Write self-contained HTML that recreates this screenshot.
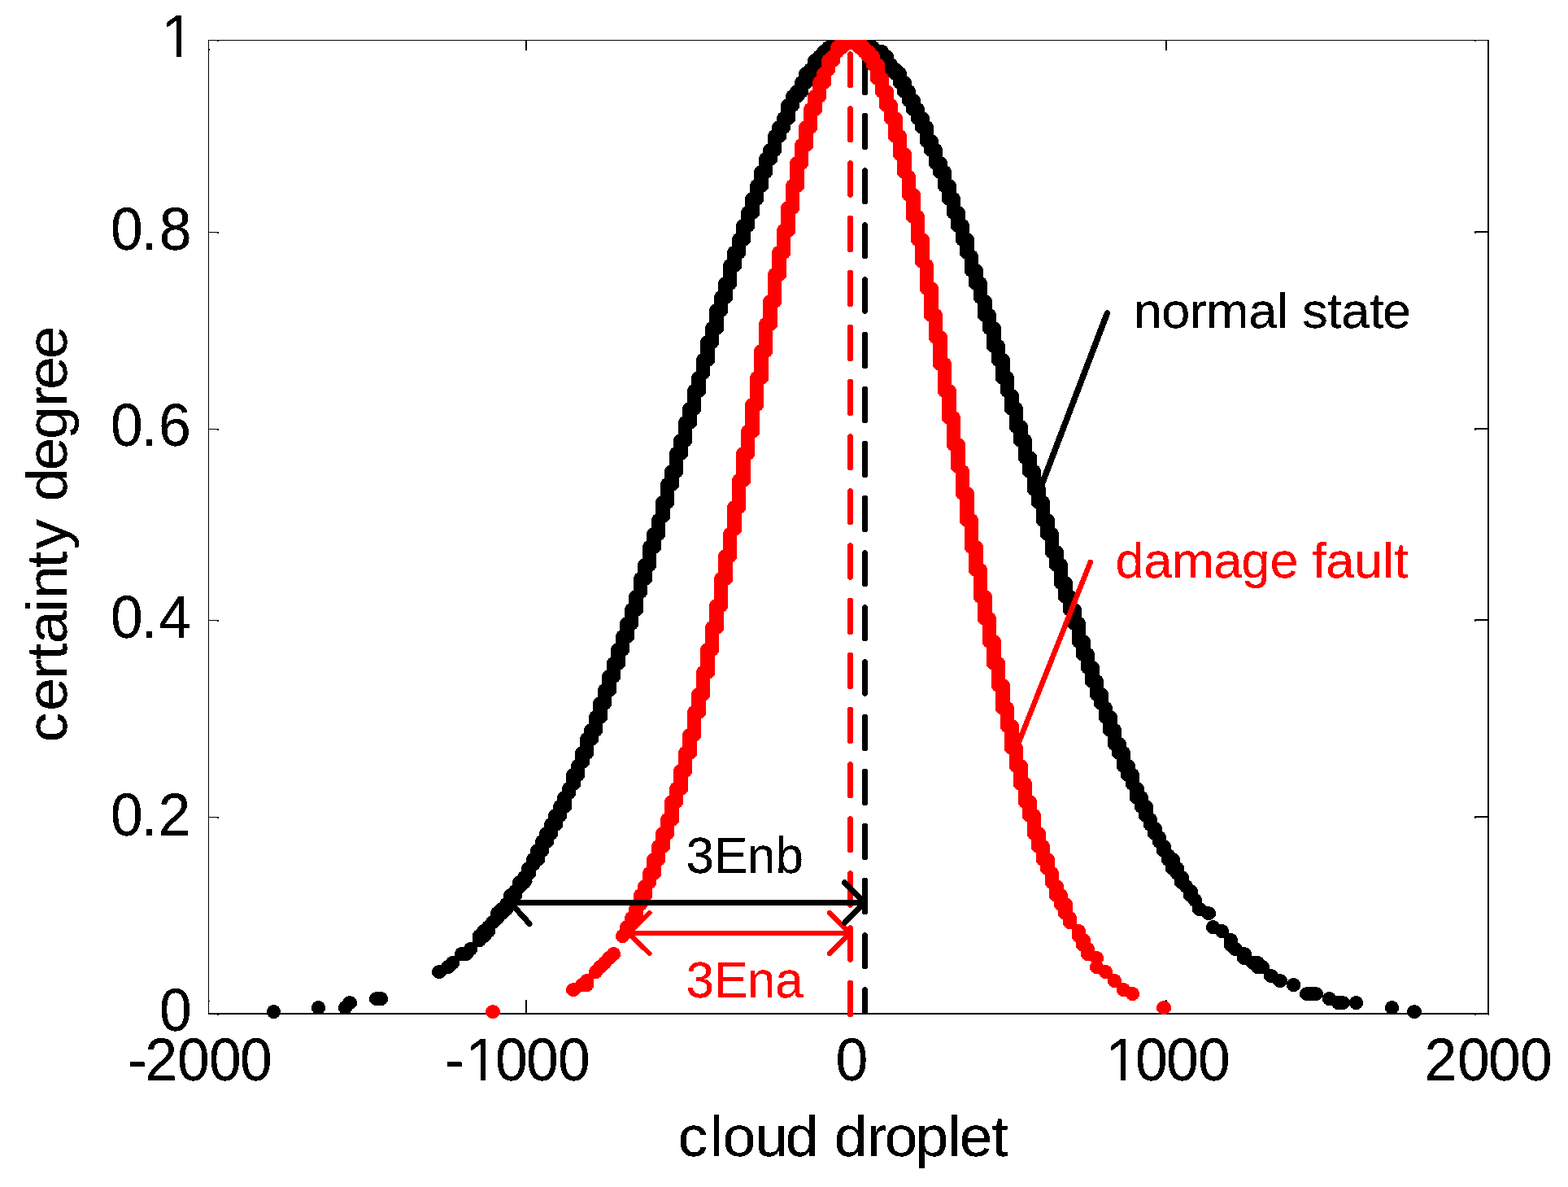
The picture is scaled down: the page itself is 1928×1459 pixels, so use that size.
<!DOCTYPE html>
<html lang="en">
<head>
<meta charset="utf-8">
<title>Cloud model: normal state vs damage fault</title>
<style>
html,body{margin:0;padding:0;background:#fff;}
body{width:1928px;height:1459px;overflow:hidden;}
svg{display:block;}
text{font-family:'Liberation Sans', Arial, Helvetica, sans-serif;white-space:pre;}
</style>
</head>
<body>
<svg xmlns="http://www.w3.org/2000/svg" width="1928" height="1459" viewBox="0 0 1928 1459">
<rect x="0" y="0" width="1928" height="1459" fill="#fff"/>
<defs><clipPath id="ax"><rect x="250" y="49" width="1600" height="1230"/></clipPath><clipPath id="axb"><rect x="250" y="49" width="1600" height="1198"/></clipPath><clipPath id="c1_1"><path clip-rule="evenodd" d="M-3000 -3000H3000V3000H-3000Z M202.22 -6.31H216.71V10.00H202.22Z M223.03 -6.31H237.13V10.00H223.03Z"/></clipPath><clipPath id="c1_2"><path clip-rule="evenodd" d="M-3000 -3000H3000V3000H-3000Z M576.24 -6.31H590.73V10.00H576.24Z M597.05 -6.31H611.15V10.00H597.05Z"/></clipPath><clipPath id="c1_3"><path clip-rule="evenodd" d="M-3000 -3000H3000V3000H-3000Z M1363.19 -6.31H1377.68V10.00H1363.19Z M1384.00 -6.31H1398.10V10.00H1384.00Z"/></clipPath><filter id="th" x="0" y="0" width="1928" height="1459" filterUnits="userSpaceOnUse" color-interpolation-filters="sRGB"><feComponentTransfer><feFuncA type="discrete" tableValues="0 1"/></feComponentTransfer></filter><filter id="tht" x="0" y="0" width="1928" height="1459" filterUnits="userSpaceOnUse" color-interpolation-filters="sRGB"><feComponentTransfer><feFuncA type="discrete" tableValues="0 1 1"/></feComponentTransfer></filter></defs>
<g fill="#000" shape-rendering="crispEdges"><rect x="256" y="49" width="1" height="1198"/><rect x="256" y="49" width="1575" height="1"/><rect x="1829" y="49" width="2" height="1198"/><rect x="256" y="1245" width="1575" height="2"/><rect x="646" y="49" width="2" height="13"/><rect x="646" y="1229" width="2" height="17"/><rect x="1433" y="49" width="2" height="13"/><rect x="1433" y="1229" width="2" height="17"/><rect x="256" y="285" width="12" height="1"/><rect x="267" y="285" width="2" height="2"/><rect x="1813" y="284" width="17" height="2"/><rect x="1813" y="284" width="2" height="3"/><rect x="256" y="527" width="12" height="1"/><rect x="267" y="527" width="2" height="2"/><rect x="1813" y="526" width="17" height="2"/><rect x="1813" y="526" width="2" height="3"/><rect x="256" y="762" width="12" height="1"/><rect x="267" y="762" width="2" height="2"/><rect x="1813" y="761" width="17" height="2"/><rect x="1813" y="761" width="2" height="3"/><rect x="256" y="1004" width="12" height="1"/><rect x="267" y="1004" width="2" height="2"/><rect x="1813" y="1003" width="17" height="2"/><rect x="1813" y="1003" width="2" height="3"/><rect x="267" y="50" width="2" height="1"/><rect x="257" y="60" width="1" height="2"/><rect x="1813" y="50" width="2" height="1"/><rect x="1813" y="1247" width="2" height="1"/><rect x="267" y="1247" width="2" height="1"/><rect x="257" y="1230" width="1" height="1"/><rect x="1830" y="1247" width="1" height="1"/></g>
<g filter="url(#tht)">
<text transform="translate(0 70.00) scale(1 1.03)" x="198.73" y="0" font-size="71.5" fill="#000" clip-path="url(#c1_1)">1</text>
<text transform="translate(0 307.00) scale(1 1.03)" x="136.11 173.44 195.65" y="0" font-size="71.5" fill="#000">0.8</text>
<text transform="translate(0 548.00) scale(1 1.03)" x="136.11 173.44 195.02" y="0" font-size="71.5" fill="#000">0.6</text>
<text transform="translate(0 783.90) scale(1 1.03)" x="136.11 173.44 195.26" y="0" font-size="71.5" fill="#000">0.4</text>
<text transform="translate(0 1026.50) scale(1 1.03)" x="136.11 173.44 194.50" y="0" font-size="71.5" fill="#000">0.2</text>
<text transform="translate(0 1267.00) scale(1 1.03)" x="196.11" y="0" font-size="71.5" fill="#000">0</text>
<text transform="translate(0 1328.00) scale(1 1.03)" x="156.67 178.35 218.06 256.96 295.01" y="0" font-size="71.5" fill="#000">-2000</text>
<text transform="translate(0 1328.00) scale(1 1.03)" x="546.67 572.75 609.11 646.96 686.11" y="0" font-size="71.5" fill="#000" clip-path="url(#c1_2)">-1000</text>
<text transform="translate(0 1328.00) scale(1 1.03)" x="1027.51" y="0" font-size="71.5" fill="#000">0</text>
<text transform="translate(0 1328.00) scale(1 1.03)" x="1359.70 1395.96 1434.11 1472.91" y="0" font-size="71.5" fill="#000" clip-path="url(#c1_3)">1000</text>
<text transform="translate(0 1328.00) scale(1 1.03)" x="1751.40 1792.11 1830.01 1869.11" y="0" font-size="71.5" fill="#000">2000</text>
<text transform="translate(0 1421.00) scale(1 0.964)" x="833.65 872.98 888.83 928.16 965.83 1006.43 1025.73 1066.05 1087.83 1125.39 1165.18 1179.70 1219.60" y="0" font-size="73.0" fill="#000">cloud droplet</text>
<text transform="translate(81.60 0) rotate(-90) scale(1 0.964)" x="-912.20 -873.80 -834.75 -811.00 -791.20 -752.68 -735.85 -698.00 -674.68 -638.18 -616.17 -578.30 -539.87 -499.75 -478.80 -440.90" y="0" font-size="73.0" fill="#000">certainty degree</text>
<text transform="translate(0 402.90) scale(1 0.963)" x="1393.76 1428.25 1462.82 1482.92 1535.32 1569.75 1583.75 1601.15 1632.15 1649.28 1684.15 1700.12" y="0" font-size="63.0" fill="#000">normal state</text>
<text transform="translate(0 709.90) scale(1 0.963)" x="1371.42 1406.18 1440.82 1492.22 1526.45 1561.42 1596.46 1613.17 1630.32 1664.96 1699.95 1714.15" y="0" font-size="63.0" fill="#f00">damage fault</text>
<text transform="translate(0 1073.00) scale(1 1.01)" x="843.40 877.97 918.78 953.40" y="0" font-size="62.0" fill="#000">3Enb</text>
<text transform="translate(0 1226.00) scale(1 1.01)" x="843.40 877.97 918.78 953.35" y="0" font-size="62.0" fill="#f00">3Ena</text>
</g>
<g clip-path="url(#axb)"><g filter="url(#th)" stroke="#000" stroke-width="7" stroke-linecap="round"><line x1="1063.5" y1="7.9" x2="1063.5" y2="46.4"/><line x1="1063.5" y1="75.1" x2="1063.5" y2="113.6"/><line x1="1063.5" y1="142.2" x2="1063.5" y2="180.8"/><line x1="1063.5" y1="209.4" x2="1063.5" y2="247.9"/><line x1="1063.5" y1="276.6" x2="1063.5" y2="315.1"/><line x1="1063.5" y1="343.7" x2="1063.5" y2="382.2"/><line x1="1063.5" y1="410.9" x2="1063.5" y2="449.4"/><line x1="1063.5" y1="478.0" x2="1063.5" y2="516.5"/><line x1="1063.5" y1="545.1" x2="1063.5" y2="583.6"/><line x1="1063.5" y1="612.3" x2="1063.5" y2="650.8"/><line x1="1063.5" y1="679.4" x2="1063.5" y2="717.9"/><line x1="1063.5" y1="746.6" x2="1063.5" y2="785.1"/><line x1="1063.5" y1="813.7" x2="1063.5" y2="852.2"/><line x1="1063.5" y1="880.9" x2="1063.5" y2="919.4"/><line x1="1063.5" y1="948.0" x2="1063.5" y2="986.5"/><line x1="1063.5" y1="1015.2" x2="1063.5" y2="1053.7"/><line x1="1063.5" y1="1082.3" x2="1063.5" y2="1120.8"/><line x1="1063.5" y1="1149.5" x2="1063.5" y2="1188.0"/><line x1="1063.5" y1="1216.7" x2="1063.5" y2="1255.2"/></g></g>
<g clip-path="url(#ax)">
<g filter="url(#th)" fill="#000"><ellipse cx="595" cy="1150.5" rx="9.15" ry="8.6"/><ellipse cx="595" cy="1144.5" rx="9.15" ry="8.6"/><ellipse cx="600.5" cy="1144.5" rx="8.65" ry="8.6"/><ellipse cx="600.5" cy="1139.5" rx="8.65" ry="8.6"/><ellipse cx="606" cy="1133.5" rx="9.15" ry="8.6"/><ellipse cx="611.5" cy="1128.5" rx="8.65" ry="8.6"/><ellipse cx="611.5" cy="1122.5" rx="8.65" ry="8.6"/><ellipse cx="617" cy="1122.5" rx="9.15" ry="8.6"/><ellipse cx="617" cy="1117.5" rx="9.15" ry="8.6"/><ellipse cx="622.5" cy="1117.5" rx="8.65" ry="8.6"/><ellipse cx="622.5" cy="1111.5" rx="8.65" ry="8.6"/><ellipse cx="628" cy="1106.5" rx="9.15" ry="8.6"/><ellipse cx="628" cy="1100.5" rx="9.15" ry="8.6"/><ellipse cx="633.5" cy="1100.5" rx="8.65" ry="8.6"/><ellipse cx="633.5" cy="1095.5" rx="8.65" ry="8.6"/><ellipse cx="639" cy="1089.5" rx="9.15" ry="8.6"/><ellipse cx="639" cy="1084.5" rx="9.15" ry="8.6"/><ellipse cx="644.5" cy="1084.5" rx="8.65" ry="8.6"/><ellipse cx="644.5" cy="1078.5" rx="8.65" ry="8.6"/><ellipse cx="650" cy="1073.5" rx="9.15" ry="8.6"/><ellipse cx="650" cy="1067.5" rx="9.15" ry="8.6"/><ellipse cx="655.5" cy="1062.5" rx="8.65" ry="8.6"/><ellipse cx="655.5" cy="1056.5" rx="8.65" ry="8.6"/><ellipse cx="661" cy="1056.5" rx="9.15" ry="8.6"/><ellipse cx="661" cy="1051.5" rx="9.15" ry="8.6"/><ellipse cx="661" cy="1045.5" rx="9.15" ry="8.6"/><ellipse cx="666.5" cy="1045.5" rx="8.65" ry="8.6"/><ellipse cx="666.5" cy="1040.5" rx="8.65" ry="8.6"/><ellipse cx="666.5" cy="1034.5" rx="8.65" ry="8.6"/><ellipse cx="672" cy="1034.5" rx="9.15" ry="8.6"/><ellipse cx="672" cy="1029.5" rx="9.15" ry="8.6"/><ellipse cx="672" cy="1024.5" rx="9.15" ry="8.6"/><ellipse cx="677.5" cy="1024.5" rx="8.65" ry="8.6"/><ellipse cx="677.5" cy="1018.5" rx="8.65" ry="8.6"/><ellipse cx="677.5" cy="1013.5" rx="8.65" ry="8.6"/><ellipse cx="683" cy="1013.5" rx="9.15" ry="8.6"/><ellipse cx="683" cy="1007.5" rx="9.15" ry="8.6"/><ellipse cx="683" cy="1002.5" rx="9.15" ry="8.6"/><ellipse cx="688.5" cy="1002.5" rx="8.65" ry="8.6"/><ellipse cx="688.5" cy="996.5" rx="8.65" ry="8.6"/><ellipse cx="688.5" cy="991.5" rx="8.65" ry="8.6"/><ellipse cx="694" cy="991.5" rx="9.15" ry="8.6"/><ellipse cx="694" cy="985.5" rx="9.15" ry="8.6"/><ellipse cx="694" cy="980.5" rx="9.15" ry="8.6"/><ellipse cx="699.5" cy="974.5" rx="8.65" ry="8.6"/><ellipse cx="699.5" cy="969.5" rx="8.65" ry="8.6"/><ellipse cx="705" cy="963.5" rx="9.15" ry="8.6"/><ellipse cx="705" cy="958.5" rx="9.15" ry="8.6"/><ellipse cx="705" cy="952.5" rx="9.15" ry="8.6"/><ellipse cx="710.5" cy="952.5" rx="8.65" ry="8.6"/><ellipse cx="710.5" cy="947.5" rx="8.65" ry="8.6"/><ellipse cx="710.5" cy="941.5" rx="8.65" ry="8.6"/><ellipse cx="716" cy="936.5" rx="9.15" ry="8.6"/><ellipse cx="716" cy="930.5" rx="9.15" ry="8.6"/><ellipse cx="716" cy="925.5" rx="9.15" ry="8.6"/><ellipse cx="721.5" cy="925.5" rx="8.65" ry="8.6"/><ellipse cx="721.5" cy="919.5" rx="8.65" ry="8.6"/><ellipse cx="721.5" cy="914.5" rx="8.65" ry="8.6"/><ellipse cx="721.5" cy="908.5" rx="8.65" ry="8.6"/><ellipse cx="727" cy="908.5" rx="9.15" ry="8.6"/><ellipse cx="727" cy="903.5" rx="9.15" ry="8.6"/><ellipse cx="727" cy="897.5" rx="9.15" ry="8.6"/><ellipse cx="732.5" cy="897.5" rx="8.65" ry="8.6"/><ellipse cx="732.5" cy="892.5" rx="8.65" ry="8.6"/><ellipse cx="732.5" cy="886.5" rx="8.65" ry="8.6"/><ellipse cx="732.5" cy="881.5" rx="8.65" ry="8.6"/><ellipse cx="738" cy="881.5" rx="9.15" ry="8.6"/><ellipse cx="738" cy="875.5" rx="9.15" ry="8.6"/><ellipse cx="738" cy="870.5" rx="9.15" ry="8.6"/><ellipse cx="738" cy="864.5" rx="9.15" ry="8.6"/><ellipse cx="743.5" cy="864.5" rx="8.65" ry="8.6"/><ellipse cx="743.5" cy="859.5" rx="8.65" ry="8.6"/><ellipse cx="743.5" cy="853.5" rx="8.65" ry="8.6"/><ellipse cx="743.5" cy="848.5" rx="8.65" ry="8.6"/><ellipse cx="749" cy="848.5" rx="9.15" ry="8.6"/><ellipse cx="749" cy="842.5" rx="9.15" ry="8.6"/><ellipse cx="749" cy="837.5" rx="9.15" ry="8.6"/><ellipse cx="749" cy="831.5" rx="9.15" ry="8.6"/><ellipse cx="754.5" cy="831.5" rx="8.65" ry="8.6"/><ellipse cx="754.5" cy="826.5" rx="8.65" ry="8.6"/><ellipse cx="754.5" cy="820.5" rx="8.65" ry="8.6"/><ellipse cx="754.5" cy="815.5" rx="8.65" ry="8.6"/><ellipse cx="760" cy="815.5" rx="9.15" ry="8.6"/><ellipse cx="760" cy="809.5" rx="9.15" ry="8.6"/><ellipse cx="760" cy="804.5" rx="9.15" ry="8.6"/><ellipse cx="760" cy="798.5" rx="9.15" ry="8.6"/><ellipse cx="765.5" cy="798.5" rx="8.65" ry="8.6"/><ellipse cx="765.5" cy="793.5" rx="8.65" ry="8.6"/><ellipse cx="765.5" cy="788.5" rx="8.65" ry="8.6"/><ellipse cx="765.5" cy="782.5" rx="8.65" ry="8.6"/><ellipse cx="771" cy="782.5" rx="9.15" ry="8.6"/><ellipse cx="771" cy="777.5" rx="9.15" ry="8.6"/><ellipse cx="771" cy="771.5" rx="9.15" ry="8.6"/><ellipse cx="771" cy="766.5" rx="9.15" ry="8.6"/><ellipse cx="776.5" cy="766.5" rx="8.65" ry="8.6"/><ellipse cx="776.5" cy="760.5" rx="8.65" ry="8.6"/><ellipse cx="776.5" cy="755.5" rx="8.65" ry="8.6"/><ellipse cx="776.5" cy="749.5" rx="8.65" ry="8.6"/><ellipse cx="782" cy="749.5" rx="9.15" ry="8.6"/><ellipse cx="782" cy="744.5" rx="9.15" ry="8.6"/><ellipse cx="782" cy="738.5" rx="9.15" ry="8.6"/><ellipse cx="782" cy="733.5" rx="9.15" ry="8.6"/><ellipse cx="787.5" cy="727.5" rx="8.65" ry="8.6"/><ellipse cx="787.5" cy="722.5" rx="8.65" ry="8.6"/><ellipse cx="787.5" cy="716.5" rx="8.65" ry="8.6"/><ellipse cx="787.5" cy="711.5" rx="8.65" ry="8.6"/><ellipse cx="793" cy="711.5" rx="9.15" ry="8.6"/><ellipse cx="793" cy="705.5" rx="9.15" ry="8.6"/><ellipse cx="793" cy="700.5" rx="9.15" ry="8.6"/><ellipse cx="793" cy="694.5" rx="9.15" ry="8.6"/><ellipse cx="798.5" cy="694.5" rx="8.65" ry="8.6"/><ellipse cx="798.5" cy="689.5" rx="8.65" ry="8.6"/><ellipse cx="798.5" cy="683.5" rx="8.65" ry="8.6"/><ellipse cx="798.5" cy="678.5" rx="8.65" ry="8.6"/><ellipse cx="798.5" cy="672.5" rx="8.65" ry="8.6"/><ellipse cx="804" cy="672.5" rx="9.15" ry="8.6"/><ellipse cx="804" cy="667.5" rx="9.15" ry="8.6"/><ellipse cx="804" cy="661.5" rx="9.15" ry="8.6"/><ellipse cx="804" cy="656.5" rx="9.15" ry="8.6"/><ellipse cx="809.5" cy="656.5" rx="8.65" ry="8.6"/><ellipse cx="809.5" cy="650.5" rx="8.65" ry="8.6"/><ellipse cx="809.5" cy="645.5" rx="8.65" ry="8.6"/><ellipse cx="809.5" cy="639.5" rx="8.65" ry="8.6"/><ellipse cx="815" cy="634.5" rx="9.15" ry="8.6"/><ellipse cx="815" cy="628.5" rx="9.15" ry="8.6"/><ellipse cx="815" cy="623.5" rx="9.15" ry="8.6"/><ellipse cx="815" cy="617.5" rx="9.15" ry="8.6"/><ellipse cx="820.5" cy="617.5" rx="8.65" ry="8.6"/><ellipse cx="820.5" cy="612.5" rx="8.65" ry="8.6"/><ellipse cx="820.5" cy="606.5" rx="8.65" ry="8.6"/><ellipse cx="820.5" cy="601.5" rx="8.65" ry="8.6"/><ellipse cx="820.5" cy="595.5" rx="8.65" ry="8.6"/><ellipse cx="826" cy="595.5" rx="9.15" ry="8.6"/><ellipse cx="826" cy="590.5" rx="9.15" ry="8.6"/><ellipse cx="826" cy="584.5" rx="9.15" ry="8.6"/><ellipse cx="826" cy="579.5" rx="9.15" ry="8.6"/><ellipse cx="831.5" cy="579.5" rx="8.65" ry="8.6"/><ellipse cx="831.5" cy="573.5" rx="8.65" ry="8.6"/><ellipse cx="831.5" cy="568.5" rx="8.65" ry="8.6"/><ellipse cx="831.5" cy="562.5" rx="8.65" ry="8.6"/><ellipse cx="831.5" cy="557.5" rx="8.65" ry="8.6"/><ellipse cx="837" cy="557.5" rx="9.15" ry="8.6"/><ellipse cx="837" cy="551.5" rx="9.15" ry="8.6"/><ellipse cx="837" cy="546.5" rx="9.15" ry="8.6"/><ellipse cx="837" cy="541.5" rx="9.15" ry="8.6"/><ellipse cx="842.5" cy="541.5" rx="8.65" ry="8.6"/><ellipse cx="842.5" cy="535.5" rx="8.65" ry="8.6"/><ellipse cx="842.5" cy="530.5" rx="8.65" ry="8.6"/><ellipse cx="842.5" cy="524.5" rx="8.65" ry="8.6"/><ellipse cx="842.5" cy="519.5" rx="8.65" ry="8.6"/><ellipse cx="848" cy="519.5" rx="9.15" ry="8.6"/><ellipse cx="848" cy="513.5" rx="9.15" ry="8.6"/><ellipse cx="848" cy="508.5" rx="9.15" ry="8.6"/><ellipse cx="848" cy="502.5" rx="9.15" ry="8.6"/><ellipse cx="853.5" cy="502.5" rx="8.65" ry="8.6"/><ellipse cx="853.5" cy="497.5" rx="8.65" ry="8.6"/><ellipse cx="853.5" cy="491.5" rx="8.65" ry="8.6"/><ellipse cx="853.5" cy="486.5" rx="8.65" ry="8.6"/><ellipse cx="853.5" cy="480.5" rx="8.65" ry="8.6"/><ellipse cx="859" cy="480.5" rx="9.15" ry="8.6"/><ellipse cx="859" cy="475.5" rx="9.15" ry="8.6"/><ellipse cx="859" cy="469.5" rx="9.15" ry="8.6"/><ellipse cx="859" cy="464.5" rx="9.15" ry="8.6"/><ellipse cx="864.5" cy="458.5" rx="8.65" ry="8.6"/><ellipse cx="864.5" cy="453.5" rx="8.65" ry="8.6"/><ellipse cx="864.5" cy="447.5" rx="8.65" ry="8.6"/><ellipse cx="864.5" cy="442.5" rx="8.65" ry="8.6"/><ellipse cx="870" cy="442.5" rx="9.15" ry="8.6"/><ellipse cx="870" cy="436.5" rx="9.15" ry="8.6"/><ellipse cx="870" cy="431.5" rx="9.15" ry="8.6"/><ellipse cx="870" cy="425.5" rx="9.15" ry="8.6"/><ellipse cx="870" cy="420.5" rx="9.15" ry="8.6"/><ellipse cx="875.5" cy="420.5" rx="8.65" ry="8.6"/><ellipse cx="875.5" cy="414.5" rx="8.65" ry="8.6"/><ellipse cx="875.5" cy="409.5" rx="8.65" ry="8.6"/><ellipse cx="875.5" cy="403.5" rx="8.65" ry="8.6"/><ellipse cx="881" cy="403.5" rx="9.15" ry="8.6"/><ellipse cx="881" cy="398.5" rx="9.15" ry="8.6"/><ellipse cx="881" cy="392.5" rx="9.15" ry="8.6"/><ellipse cx="881" cy="387.5" rx="9.15" ry="8.6"/><ellipse cx="881" cy="381.5" rx="9.15" ry="8.6"/><ellipse cx="886.5" cy="381.5" rx="8.65" ry="8.6"/><ellipse cx="886.5" cy="376.5" rx="8.65" ry="8.6"/><ellipse cx="886.5" cy="370.5" rx="8.65" ry="8.6"/><ellipse cx="886.5" cy="365.5" rx="8.65" ry="8.6"/><ellipse cx="892" cy="365.5" rx="9.15" ry="8.6"/><ellipse cx="892" cy="359.5" rx="9.15" ry="8.6"/><ellipse cx="892" cy="354.5" rx="9.15" ry="8.6"/><ellipse cx="892" cy="348.5" rx="9.15" ry="8.6"/><ellipse cx="897.5" cy="348.5" rx="8.65" ry="8.6"/><ellipse cx="897.5" cy="343.5" rx="8.65" ry="8.6"/><ellipse cx="897.5" cy="337.5" rx="8.65" ry="8.6"/><ellipse cx="897.5" cy="332.5" rx="8.65" ry="8.6"/><ellipse cx="897.5" cy="326.5" rx="8.65" ry="8.6"/><ellipse cx="903" cy="326.5" rx="9.15" ry="8.6"/><ellipse cx="903" cy="321.5" rx="9.15" ry="8.6"/><ellipse cx="903" cy="315.5" rx="9.15" ry="8.6"/><ellipse cx="903" cy="310.5" rx="9.15" ry="8.6"/><ellipse cx="908.5" cy="310.5" rx="8.65" ry="8.6"/><ellipse cx="908.5" cy="305.5" rx="8.65" ry="8.6"/><ellipse cx="908.5" cy="299.5" rx="8.65" ry="8.6"/><ellipse cx="908.5" cy="294.5" rx="8.65" ry="8.6"/><ellipse cx="914" cy="294.5" rx="9.15" ry="8.6"/><ellipse cx="914" cy="288.5" rx="9.15" ry="8.6"/><ellipse cx="914" cy="283.5" rx="9.15" ry="8.6"/><ellipse cx="914" cy="277.5" rx="9.15" ry="8.6"/><ellipse cx="919.5" cy="277.5" rx="8.65" ry="8.6"/><ellipse cx="919.5" cy="272.5" rx="8.65" ry="8.6"/><ellipse cx="919.5" cy="266.5" rx="8.65" ry="8.6"/><ellipse cx="919.5" cy="261.5" rx="8.65" ry="8.6"/><ellipse cx="925" cy="261.5" rx="9.15" ry="8.6"/><ellipse cx="925" cy="255.5" rx="9.15" ry="8.6"/><ellipse cx="925" cy="250.5" rx="9.15" ry="8.6"/><ellipse cx="925" cy="244.5" rx="9.15" ry="8.6"/><ellipse cx="930.5" cy="244.5" rx="8.65" ry="8.6"/><ellipse cx="930.5" cy="239.5" rx="8.65" ry="8.6"/><ellipse cx="930.5" cy="233.5" rx="8.65" ry="8.6"/><ellipse cx="930.5" cy="228.5" rx="8.65" ry="8.6"/><ellipse cx="936" cy="228.5" rx="9.15" ry="8.6"/><ellipse cx="936" cy="222.5" rx="9.15" ry="8.6"/><ellipse cx="936" cy="217.5" rx="9.15" ry="8.6"/><ellipse cx="936" cy="211.5" rx="9.15" ry="8.6"/><ellipse cx="941.5" cy="211.5" rx="8.65" ry="8.6"/><ellipse cx="941.5" cy="206.5" rx="8.65" ry="8.6"/><ellipse cx="941.5" cy="200.5" rx="8.65" ry="8.6"/><ellipse cx="941.5" cy="195.5" rx="8.65" ry="8.6"/><ellipse cx="947" cy="195.5" rx="9.15" ry="8.6"/><ellipse cx="947" cy="189.5" rx="9.15" ry="8.6"/><ellipse cx="947" cy="184.5" rx="9.15" ry="8.6"/><ellipse cx="952.5" cy="184.5" rx="8.65" ry="8.6"/><ellipse cx="952.5" cy="178.5" rx="8.65" ry="8.6"/><ellipse cx="952.5" cy="173.5" rx="8.65" ry="8.6"/><ellipse cx="952.5" cy="167.5" rx="8.65" ry="8.6"/><ellipse cx="958" cy="167.5" rx="9.15" ry="8.6"/><ellipse cx="958" cy="162.5" rx="9.15" ry="8.6"/><ellipse cx="958" cy="156.5" rx="9.15" ry="8.6"/><ellipse cx="963.5" cy="156.5" rx="8.65" ry="8.6"/><ellipse cx="963.5" cy="151.5" rx="8.65" ry="8.6"/><ellipse cx="963.5" cy="145.5" rx="8.65" ry="8.6"/><ellipse cx="969" cy="145.5" rx="9.15" ry="8.6"/><ellipse cx="969" cy="140.5" rx="9.15" ry="8.6"/><ellipse cx="969" cy="134.5" rx="9.15" ry="8.6"/><ellipse cx="969" cy="129.5" rx="9.15" ry="8.6"/><ellipse cx="974.5" cy="129.5" rx="8.65" ry="8.6"/><ellipse cx="974.5" cy="123.5" rx="8.65" ry="8.6"/><ellipse cx="974.5" cy="118.5" rx="8.65" ry="8.6"/><ellipse cx="980" cy="118.5" rx="9.15" ry="8.6"/><ellipse cx="980" cy="112.5" rx="9.15" ry="8.6"/><ellipse cx="985.5" cy="112.5" rx="8.65" ry="8.6"/><ellipse cx="985.5" cy="107.5" rx="8.65" ry="8.6"/><ellipse cx="985.5" cy="101.5" rx="8.65" ry="8.6"/><ellipse cx="991" cy="101.5" rx="9.15" ry="8.6"/><ellipse cx="991" cy="96.5" rx="9.15" ry="8.6"/><ellipse cx="991" cy="90.5" rx="9.15" ry="8.6"/><ellipse cx="996.5" cy="90.5" rx="8.65" ry="8.6"/><ellipse cx="996.5" cy="85.5" rx="8.65" ry="8.6"/><ellipse cx="1002" cy="85.5" rx="9.15" ry="8.6"/><ellipse cx="1002" cy="79.5" rx="9.15" ry="8.6"/><ellipse cx="1002" cy="74.5" rx="9.15" ry="8.6"/><ellipse cx="1007.5" cy="74.5" rx="8.65" ry="8.6"/><ellipse cx="1007.5" cy="69.5" rx="8.65" ry="8.6"/><ellipse cx="1013" cy="69.5" rx="9.15" ry="8.6"/><ellipse cx="1013" cy="63.5" rx="9.15" ry="8.6"/><ellipse cx="1018.5" cy="63.5" rx="8.65" ry="8.6"/><ellipse cx="1018.5" cy="58.5" rx="8.65" ry="8.6"/><ellipse cx="1024" cy="58.5" rx="9.15" ry="8.6"/><ellipse cx="1029.5" cy="58.5" rx="8.65" ry="8.6"/><ellipse cx="1029.5" cy="52.5" rx="8.65" ry="8.6"/><ellipse cx="1035" cy="52.5" rx="9.15" ry="8.6"/><ellipse cx="1040.5" cy="52.5" rx="8.65" ry="8.6"/><ellipse cx="1046" cy="52.5" rx="9.15" ry="8.6"/><ellipse cx="1051.5" cy="52.5" rx="8.65" ry="8.6"/><ellipse cx="1057" cy="52.5" rx="9.15" ry="8.6"/><ellipse cx="1062.5" cy="52.5" rx="8.65" ry="8.6"/><ellipse cx="1068" cy="58.5" rx="9.15" ry="8.6"/><ellipse cx="1068" cy="52.5" rx="9.15" ry="8.6"/><ellipse cx="1073.5" cy="63.5" rx="8.65" ry="8.6"/><ellipse cx="1073.5" cy="58.5" rx="8.65" ry="8.6"/><ellipse cx="1079" cy="63.5" rx="9.15" ry="8.6"/><ellipse cx="1084.5" cy="69.5" rx="8.65" ry="8.6"/><ellipse cx="1084.5" cy="63.5" rx="8.65" ry="8.6"/><ellipse cx="1090" cy="79.5" rx="9.15" ry="8.6"/><ellipse cx="1090" cy="74.5" rx="9.15" ry="8.6"/><ellipse cx="1090" cy="69.5" rx="9.15" ry="8.6"/><ellipse cx="1095.5" cy="85.5" rx="8.65" ry="8.6"/><ellipse cx="1095.5" cy="79.5" rx="8.65" ry="8.6"/><ellipse cx="1101" cy="90.5" rx="9.15" ry="8.6"/><ellipse cx="1101" cy="85.5" rx="9.15" ry="8.6"/><ellipse cx="1106.5" cy="101.5" rx="8.65" ry="8.6"/><ellipse cx="1106.5" cy="96.5" rx="8.65" ry="8.6"/><ellipse cx="1106.5" cy="90.5" rx="8.65" ry="8.6"/><ellipse cx="1112" cy="112.5" rx="9.15" ry="8.6"/><ellipse cx="1112" cy="107.5" rx="9.15" ry="8.6"/><ellipse cx="1112" cy="101.5" rx="9.15" ry="8.6"/><ellipse cx="1117.5" cy="123.5" rx="8.65" ry="8.6"/><ellipse cx="1117.5" cy="118.5" rx="8.65" ry="8.6"/><ellipse cx="1117.5" cy="112.5" rx="8.65" ry="8.6"/><ellipse cx="1123" cy="134.5" rx="9.15" ry="8.6"/><ellipse cx="1123" cy="129.5" rx="9.15" ry="8.6"/><ellipse cx="1123" cy="123.5" rx="9.15" ry="8.6"/><ellipse cx="1128.5" cy="145.5" rx="8.65" ry="8.6"/><ellipse cx="1128.5" cy="140.5" rx="8.65" ry="8.6"/><ellipse cx="1128.5" cy="134.5" rx="8.65" ry="8.6"/><ellipse cx="1134" cy="156.5" rx="9.15" ry="8.6"/><ellipse cx="1134" cy="151.5" rx="9.15" ry="8.6"/><ellipse cx="1134" cy="145.5" rx="9.15" ry="8.6"/><ellipse cx="1139.5" cy="173.5" rx="8.65" ry="8.6"/><ellipse cx="1139.5" cy="167.5" rx="8.65" ry="8.6"/><ellipse cx="1139.5" cy="162.5" rx="8.65" ry="8.6"/><ellipse cx="1139.5" cy="156.5" rx="8.65" ry="8.6"/><ellipse cx="1145" cy="184.5" rx="9.15" ry="8.6"/><ellipse cx="1145" cy="178.5" rx="9.15" ry="8.6"/><ellipse cx="1145" cy="173.5" rx="9.15" ry="8.6"/><ellipse cx="1150.5" cy="200.5" rx="8.65" ry="8.6"/><ellipse cx="1150.5" cy="195.5" rx="8.65" ry="8.6"/><ellipse cx="1150.5" cy="189.5" rx="8.65" ry="8.6"/><ellipse cx="1150.5" cy="184.5" rx="8.65" ry="8.6"/><ellipse cx="1156" cy="211.5" rx="9.15" ry="8.6"/><ellipse cx="1156" cy="206.5" rx="9.15" ry="8.6"/><ellipse cx="1156" cy="200.5" rx="9.15" ry="8.6"/><ellipse cx="1161.5" cy="228.5" rx="8.65" ry="8.6"/><ellipse cx="1161.5" cy="222.5" rx="8.65" ry="8.6"/><ellipse cx="1161.5" cy="217.5" rx="8.65" ry="8.6"/><ellipse cx="1161.5" cy="211.5" rx="8.65" ry="8.6"/><ellipse cx="1167" cy="244.5" rx="9.15" ry="8.6"/><ellipse cx="1167" cy="239.5" rx="9.15" ry="8.6"/><ellipse cx="1167" cy="233.5" rx="9.15" ry="8.6"/><ellipse cx="1167" cy="228.5" rx="9.15" ry="8.6"/><ellipse cx="1172.5" cy="261.5" rx="8.65" ry="8.6"/><ellipse cx="1172.5" cy="255.5" rx="8.65" ry="8.6"/><ellipse cx="1172.5" cy="250.5" rx="8.65" ry="8.6"/><ellipse cx="1172.5" cy="244.5" rx="8.65" ry="8.6"/><ellipse cx="1178" cy="277.5" rx="9.15" ry="8.6"/><ellipse cx="1178" cy="272.5" rx="9.15" ry="8.6"/><ellipse cx="1178" cy="266.5" rx="9.15" ry="8.6"/><ellipse cx="1178" cy="261.5" rx="9.15" ry="8.6"/><ellipse cx="1183.5" cy="294.5" rx="8.65" ry="8.6"/><ellipse cx="1183.5" cy="288.5" rx="8.65" ry="8.6"/><ellipse cx="1183.5" cy="283.5" rx="8.65" ry="8.6"/><ellipse cx="1183.5" cy="277.5" rx="8.65" ry="8.6"/><ellipse cx="1189" cy="310.5" rx="9.15" ry="8.6"/><ellipse cx="1189" cy="305.5" rx="9.15" ry="8.6"/><ellipse cx="1189" cy="299.5" rx="9.15" ry="8.6"/><ellipse cx="1189" cy="294.5" rx="9.15" ry="8.6"/><ellipse cx="1194.5" cy="332.5" rx="8.65" ry="8.6"/><ellipse cx="1194.5" cy="326.5" rx="8.65" ry="8.6"/><ellipse cx="1194.5" cy="321.5" rx="8.65" ry="8.6"/><ellipse cx="1194.5" cy="315.5" rx="8.65" ry="8.6"/><ellipse cx="1200" cy="348.5" rx="9.15" ry="8.6"/><ellipse cx="1200" cy="343.5" rx="9.15" ry="8.6"/><ellipse cx="1200" cy="337.5" rx="9.15" ry="8.6"/><ellipse cx="1200" cy="332.5" rx="9.15" ry="8.6"/><ellipse cx="1205.5" cy="365.5" rx="8.65" ry="8.6"/><ellipse cx="1205.5" cy="359.5" rx="8.65" ry="8.6"/><ellipse cx="1205.5" cy="354.5" rx="8.65" ry="8.6"/><ellipse cx="1205.5" cy="348.5" rx="8.65" ry="8.6"/><ellipse cx="1211" cy="387.5" rx="9.15" ry="8.6"/><ellipse cx="1211" cy="381.5" rx="9.15" ry="8.6"/><ellipse cx="1211" cy="376.5" rx="9.15" ry="8.6"/><ellipse cx="1211" cy="370.5" rx="9.15" ry="8.6"/><ellipse cx="1216.5" cy="403.5" rx="8.65" ry="8.6"/><ellipse cx="1216.5" cy="398.5" rx="8.65" ry="8.6"/><ellipse cx="1216.5" cy="392.5" rx="8.65" ry="8.6"/><ellipse cx="1216.5" cy="387.5" rx="8.65" ry="8.6"/><ellipse cx="1222" cy="425.5" rx="9.15" ry="8.6"/><ellipse cx="1222" cy="420.5" rx="9.15" ry="8.6"/><ellipse cx="1222" cy="414.5" rx="9.15" ry="8.6"/><ellipse cx="1222" cy="409.5" rx="9.15" ry="8.6"/><ellipse cx="1222" cy="403.5" rx="9.15" ry="8.6"/><ellipse cx="1227.5" cy="442.5" rx="8.65" ry="8.6"/><ellipse cx="1227.5" cy="436.5" rx="8.65" ry="8.6"/><ellipse cx="1227.5" cy="431.5" rx="8.65" ry="8.6"/><ellipse cx="1227.5" cy="425.5" rx="8.65" ry="8.6"/><ellipse cx="1233" cy="464.5" rx="9.15" ry="8.6"/><ellipse cx="1233" cy="458.5" rx="9.15" ry="8.6"/><ellipse cx="1233" cy="453.5" rx="9.15" ry="8.6"/><ellipse cx="1233" cy="447.5" rx="9.15" ry="8.6"/><ellipse cx="1233" cy="442.5" rx="9.15" ry="8.6"/><ellipse cx="1238.5" cy="480.5" rx="8.65" ry="8.6"/><ellipse cx="1238.5" cy="475.5" rx="8.65" ry="8.6"/><ellipse cx="1238.5" cy="469.5" rx="8.65" ry="8.6"/><ellipse cx="1238.5" cy="464.5" rx="8.65" ry="8.6"/><ellipse cx="1244" cy="502.5" rx="9.15" ry="8.6"/><ellipse cx="1244" cy="497.5" rx="9.15" ry="8.6"/><ellipse cx="1244" cy="491.5" rx="9.15" ry="8.6"/><ellipse cx="1244" cy="486.5" rx="9.15" ry="8.6"/><ellipse cx="1249.5" cy="524.5" rx="8.65" ry="8.6"/><ellipse cx="1249.5" cy="519.5" rx="8.65" ry="8.6"/><ellipse cx="1249.5" cy="513.5" rx="8.65" ry="8.6"/><ellipse cx="1249.5" cy="508.5" rx="8.65" ry="8.6"/><ellipse cx="1249.5" cy="502.5" rx="8.65" ry="8.6"/><ellipse cx="1255" cy="541.5" rx="9.15" ry="8.6"/><ellipse cx="1255" cy="535.5" rx="9.15" ry="8.6"/><ellipse cx="1255" cy="530.5" rx="9.15" ry="8.6"/><ellipse cx="1255" cy="524.5" rx="9.15" ry="8.6"/><ellipse cx="1260.5" cy="562.5" rx="8.65" ry="8.6"/><ellipse cx="1260.5" cy="557.5" rx="8.65" ry="8.6"/><ellipse cx="1260.5" cy="551.5" rx="8.65" ry="8.6"/><ellipse cx="1260.5" cy="546.5" rx="8.65" ry="8.6"/><ellipse cx="1260.5" cy="541.5" rx="8.65" ry="8.6"/><ellipse cx="1266" cy="579.5" rx="9.15" ry="8.6"/><ellipse cx="1266" cy="573.5" rx="9.15" ry="8.6"/><ellipse cx="1266" cy="568.5" rx="9.15" ry="8.6"/><ellipse cx="1266" cy="562.5" rx="9.15" ry="8.6"/><ellipse cx="1271.5" cy="601.5" rx="8.65" ry="8.6"/><ellipse cx="1271.5" cy="595.5" rx="8.65" ry="8.6"/><ellipse cx="1271.5" cy="590.5" rx="8.65" ry="8.6"/><ellipse cx="1271.5" cy="584.5" rx="8.65" ry="8.6"/><ellipse cx="1271.5" cy="579.5" rx="8.65" ry="8.6"/><ellipse cx="1277" cy="617.5" rx="9.15" ry="8.6"/><ellipse cx="1277" cy="612.5" rx="9.15" ry="8.6"/><ellipse cx="1277" cy="606.5" rx="9.15" ry="8.6"/><ellipse cx="1277" cy="601.5" rx="9.15" ry="8.6"/><ellipse cx="1282.5" cy="639.5" rx="8.65" ry="8.6"/><ellipse cx="1282.5" cy="634.5" rx="8.65" ry="8.6"/><ellipse cx="1282.5" cy="628.5" rx="8.65" ry="8.6"/><ellipse cx="1282.5" cy="623.5" rx="8.65" ry="8.6"/><ellipse cx="1282.5" cy="617.5" rx="8.65" ry="8.6"/><ellipse cx="1288" cy="656.5" rx="9.15" ry="8.6"/><ellipse cx="1288" cy="650.5" rx="9.15" ry="8.6"/><ellipse cx="1288" cy="645.5" rx="9.15" ry="8.6"/><ellipse cx="1288" cy="639.5" rx="9.15" ry="8.6"/><ellipse cx="1293.5" cy="678.5" rx="8.65" ry="8.6"/><ellipse cx="1293.5" cy="672.5" rx="8.65" ry="8.6"/><ellipse cx="1293.5" cy="667.5" rx="8.65" ry="8.6"/><ellipse cx="1293.5" cy="661.5" rx="8.65" ry="8.6"/><ellipse cx="1293.5" cy="656.5" rx="8.65" ry="8.6"/><ellipse cx="1299" cy="694.5" rx="9.15" ry="8.6"/><ellipse cx="1299" cy="689.5" rx="9.15" ry="8.6"/><ellipse cx="1299" cy="683.5" rx="9.15" ry="8.6"/><ellipse cx="1299" cy="678.5" rx="9.15" ry="8.6"/><ellipse cx="1304.5" cy="716.5" rx="8.65" ry="8.6"/><ellipse cx="1304.5" cy="711.5" rx="8.65" ry="8.6"/><ellipse cx="1304.5" cy="705.5" rx="8.65" ry="8.6"/><ellipse cx="1304.5" cy="700.5" rx="8.65" ry="8.6"/><ellipse cx="1304.5" cy="694.5" rx="8.65" ry="8.6"/><ellipse cx="1310" cy="733.5" rx="9.15" ry="8.6"/><ellipse cx="1310" cy="727.5" rx="9.15" ry="8.6"/><ellipse cx="1310" cy="722.5" rx="9.15" ry="8.6"/><ellipse cx="1310" cy="716.5" rx="9.15" ry="8.6"/><ellipse cx="1315.5" cy="749.5" rx="8.65" ry="8.6"/><ellipse cx="1315.5" cy="744.5" rx="8.65" ry="8.6"/><ellipse cx="1315.5" cy="738.5" rx="8.65" ry="8.6"/><ellipse cx="1315.5" cy="733.5" rx="8.65" ry="8.6"/><ellipse cx="1321" cy="766.5" rx="9.15" ry="8.6"/><ellipse cx="1321" cy="760.5" rx="9.15" ry="8.6"/><ellipse cx="1321" cy="755.5" rx="9.15" ry="8.6"/><ellipse cx="1321" cy="749.5" rx="9.15" ry="8.6"/><ellipse cx="1326.5" cy="788.5" rx="8.65" ry="8.6"/><ellipse cx="1326.5" cy="782.5" rx="8.65" ry="8.6"/><ellipse cx="1326.5" cy="777.5" rx="8.65" ry="8.6"/><ellipse cx="1326.5" cy="771.5" rx="8.65" ry="8.6"/><ellipse cx="1326.5" cy="766.5" rx="8.65" ry="8.6"/><ellipse cx="1332" cy="804.5" rx="9.15" ry="8.6"/><ellipse cx="1332" cy="798.5" rx="9.15" ry="8.6"/><ellipse cx="1332" cy="793.5" rx="9.15" ry="8.6"/><ellipse cx="1332" cy="788.5" rx="9.15" ry="8.6"/><ellipse cx="1337.5" cy="820.5" rx="8.65" ry="8.6"/><ellipse cx="1337.5" cy="815.5" rx="8.65" ry="8.6"/><ellipse cx="1337.5" cy="809.5" rx="8.65" ry="8.6"/><ellipse cx="1337.5" cy="804.5" rx="8.65" ry="8.6"/><ellipse cx="1343" cy="837.5" rx="9.15" ry="8.6"/><ellipse cx="1343" cy="831.5" rx="9.15" ry="8.6"/><ellipse cx="1343" cy="826.5" rx="9.15" ry="8.6"/><ellipse cx="1343" cy="820.5" rx="9.15" ry="8.6"/><ellipse cx="1348.5" cy="853.5" rx="8.65" ry="8.6"/><ellipse cx="1348.5" cy="848.5" rx="8.65" ry="8.6"/><ellipse cx="1348.5" cy="842.5" rx="8.65" ry="8.6"/><ellipse cx="1348.5" cy="837.5" rx="8.65" ry="8.6"/><ellipse cx="1354" cy="864.5" rx="9.15" ry="8.6"/><ellipse cx="1354" cy="859.5" rx="9.15" ry="8.6"/><ellipse cx="1354" cy="853.5" rx="9.15" ry="8.6"/><ellipse cx="1359.5" cy="881.5" rx="8.65" ry="8.6"/><ellipse cx="1359.5" cy="875.5" rx="8.65" ry="8.6"/><ellipse cx="1359.5" cy="870.5" rx="8.65" ry="8.6"/><ellipse cx="1365" cy="897.5" rx="9.15" ry="8.6"/><ellipse cx="1365" cy="892.5" rx="9.15" ry="8.6"/><ellipse cx="1365" cy="886.5" rx="9.15" ry="8.6"/><ellipse cx="1365" cy="881.5" rx="9.15" ry="8.6"/><ellipse cx="1370.5" cy="914.5" rx="8.65" ry="8.6"/><ellipse cx="1370.5" cy="908.5" rx="8.65" ry="8.6"/><ellipse cx="1370.5" cy="903.5" rx="8.65" ry="8.6"/><ellipse cx="1370.5" cy="897.5" rx="8.65" ry="8.6"/><ellipse cx="1376" cy="925.5" rx="9.15" ry="8.6"/><ellipse cx="1376" cy="919.5" rx="9.15" ry="8.6"/><ellipse cx="1376" cy="914.5" rx="9.15" ry="8.6"/><ellipse cx="1381.5" cy="941.5" rx="8.65" ry="8.6"/><ellipse cx="1381.5" cy="936.5" rx="8.65" ry="8.6"/><ellipse cx="1381.5" cy="930.5" rx="8.65" ry="8.6"/><ellipse cx="1381.5" cy="925.5" rx="8.65" ry="8.6"/><ellipse cx="1387" cy="952.5" rx="9.15" ry="8.6"/><ellipse cx="1387" cy="947.5" rx="9.15" ry="8.6"/><ellipse cx="1387" cy="941.5" rx="9.15" ry="8.6"/><ellipse cx="1392.5" cy="963.5" rx="8.65" ry="8.6"/><ellipse cx="1392.5" cy="958.5" rx="8.65" ry="8.6"/><ellipse cx="1392.5" cy="952.5" rx="8.65" ry="8.6"/><ellipse cx="1398" cy="980.5" rx="9.15" ry="8.6"/><ellipse cx="1398" cy="974.5" rx="9.15" ry="8.6"/><ellipse cx="1398" cy="969.5" rx="9.15" ry="8.6"/><ellipse cx="1403.5" cy="991.5" rx="8.65" ry="8.6"/><ellipse cx="1403.5" cy="985.5" rx="8.65" ry="8.6"/><ellipse cx="1403.5" cy="980.5" rx="8.65" ry="8.6"/><ellipse cx="1409" cy="1002.5" rx="9.15" ry="8.6"/><ellipse cx="1409" cy="996.5" rx="9.15" ry="8.6"/><ellipse cx="1409" cy="991.5" rx="9.15" ry="8.6"/><ellipse cx="1414.5" cy="1013.5" rx="8.65" ry="8.6"/><ellipse cx="1414.5" cy="1007.5" rx="8.65" ry="8.6"/><ellipse cx="1420" cy="1024.5" rx="9.15" ry="8.6"/><ellipse cx="1420" cy="1018.5" rx="9.15" ry="8.6"/><ellipse cx="1425.5" cy="1034.5" rx="8.65" ry="8.6"/><ellipse cx="1425.5" cy="1029.5" rx="8.65" ry="8.6"/><ellipse cx="1431" cy="1045.5" rx="9.15" ry="8.6"/><ellipse cx="1431" cy="1040.5" rx="9.15" ry="8.6"/><ellipse cx="1436.5" cy="1056.5" rx="8.65" ry="8.6"/><ellipse cx="1436.5" cy="1051.5" rx="8.65" ry="8.6"/><ellipse cx="1442" cy="1067.5" rx="9.15" ry="8.6"/><ellipse cx="1442" cy="1062.5" rx="9.15" ry="8.6"/><ellipse cx="1442" cy="1056.5" rx="9.15" ry="8.6"/><ellipse cx="1447.5" cy="1073.5" rx="8.65" ry="8.6"/><ellipse cx="1447.5" cy="1067.5" rx="8.65" ry="8.6"/><ellipse cx="1453" cy="1084.5" rx="9.15" ry="8.6"/><ellipse cx="1453" cy="1078.5" rx="9.15" ry="8.6"/><ellipse cx="1458.5" cy="1089.5" rx="8.65" ry="8.6"/><ellipse cx="1464" cy="1100.5" rx="9.15" ry="8.6"/><ellipse cx="1464" cy="1095.5" rx="9.15" ry="8.6"/><ellipse cx="1469.5" cy="1106.5" rx="8.65" ry="8.6"/><ellipse cx="336.5" cy="1243.5" rx="8.65" ry="8.6"/><ellipse cx="391.5" cy="1238.5" rx="8.65" ry="8.6"/><ellipse cx="424.5" cy="1238.5" rx="8.65" ry="8.6"/><ellipse cx="430" cy="1232.5" rx="9.15" ry="8.6"/><ellipse cx="463" cy="1227.5" rx="9.15" ry="8.6"/><ellipse cx="468.5" cy="1227.5" rx="8.65" ry="8.6"/><ellipse cx="540" cy="1194.5" rx="9.15" ry="8.6"/><ellipse cx="551" cy="1188.5" rx="9.15" ry="8.6"/><ellipse cx="556.5" cy="1183.5" rx="8.65" ry="8.6"/><ellipse cx="567.5" cy="1172.5" rx="8.65" ry="8.6"/><ellipse cx="573" cy="1172.5" rx="9.15" ry="8.6"/><ellipse cx="578.5" cy="1166.5" rx="8.65" ry="8.6"/><ellipse cx="589.5" cy="1155.5" rx="8.65" ry="8.6"/><ellipse cx="589.5" cy="1150.5" rx="8.65" ry="8.6"/><ellipse cx="1475" cy="1117.5" rx="9.15" ry="8.6"/><ellipse cx="1486" cy="1122.5" rx="9.15" ry="8.6"/><ellipse cx="1491.5" cy="1139.5" rx="8.65" ry="8.6"/><ellipse cx="1502.5" cy="1144.5" rx="8.65" ry="8.6"/><ellipse cx="1513.5" cy="1161.5" rx="8.65" ry="8.6"/><ellipse cx="1513.5" cy="1155.5" rx="8.65" ry="8.6"/><ellipse cx="1519" cy="1166.5" rx="9.15" ry="8.6"/><ellipse cx="1530" cy="1177.5" rx="9.15" ry="8.6"/><ellipse cx="1530" cy="1172.5" rx="9.15" ry="8.6"/><ellipse cx="1541" cy="1183.5" rx="9.15" ry="8.6"/><ellipse cx="1546.5" cy="1188.5" rx="8.65" ry="8.6"/><ellipse cx="1546.5" cy="1183.5" rx="8.65" ry="8.6"/><ellipse cx="1552" cy="1188.5" rx="9.15" ry="8.6"/><ellipse cx="1563" cy="1199.5" rx="9.15" ry="8.6"/><ellipse cx="1574" cy="1205.5" rx="9.15" ry="8.6"/><ellipse cx="1590.5" cy="1210.5" rx="8.65" ry="8.6"/><ellipse cx="1607" cy="1221.5" rx="9.15" ry="8.6"/><ellipse cx="1612.5" cy="1221.5" rx="8.65" ry="8.6"/><ellipse cx="1618" cy="1221.5" rx="9.15" ry="8.6"/><ellipse cx="1634.5" cy="1227.5" rx="8.65" ry="8.6"/><ellipse cx="1645.5" cy="1232.5" rx="8.65" ry="8.6"/><ellipse cx="1651" cy="1232.5" rx="9.15" ry="8.6"/><ellipse cx="1667.5" cy="1232.5" rx="8.65" ry="8.6"/><ellipse cx="1711.5" cy="1238.5" rx="8.65" ry="8.6"/><ellipse cx="1739" cy="1243.5" rx="9.15" ry="8.6"/></g>
<g filter="url(#th)" fill="#f00"><ellipse cx="771" cy="1144.5" rx="9.15" ry="8.6"/><ellipse cx="771" cy="1139.5" rx="9.15" ry="8.6"/><ellipse cx="776.5" cy="1133.5" rx="8.65" ry="8.6"/><ellipse cx="776.5" cy="1128.5" rx="8.65" ry="8.6"/><ellipse cx="782" cy="1122.5" rx="9.15" ry="8.6"/><ellipse cx="782" cy="1117.5" rx="9.15" ry="8.6"/><ellipse cx="787.5" cy="1111.5" rx="8.65" ry="8.6"/><ellipse cx="787.5" cy="1106.5" rx="8.65" ry="8.6"/><ellipse cx="787.5" cy="1100.5" rx="8.65" ry="8.6"/><ellipse cx="793" cy="1100.5" rx="9.15" ry="8.6"/><ellipse cx="793" cy="1095.5" rx="9.15" ry="8.6"/><ellipse cx="793" cy="1089.5" rx="9.15" ry="8.6"/><ellipse cx="798.5" cy="1084.5" rx="8.65" ry="8.6"/><ellipse cx="798.5" cy="1078.5" rx="8.65" ry="8.6"/><ellipse cx="798.5" cy="1073.5" rx="8.65" ry="8.6"/><ellipse cx="804" cy="1073.5" rx="9.15" ry="8.6"/><ellipse cx="804" cy="1067.5" rx="9.15" ry="8.6"/><ellipse cx="804" cy="1062.5" rx="9.15" ry="8.6"/><ellipse cx="804" cy="1056.5" rx="9.15" ry="8.6"/><ellipse cx="809.5" cy="1056.5" rx="8.65" ry="8.6"/><ellipse cx="809.5" cy="1051.5" rx="8.65" ry="8.6"/><ellipse cx="809.5" cy="1045.5" rx="8.65" ry="8.6"/><ellipse cx="809.5" cy="1040.5" rx="8.65" ry="8.6"/><ellipse cx="815" cy="1040.5" rx="9.15" ry="8.6"/><ellipse cx="815" cy="1034.5" rx="9.15" ry="8.6"/><ellipse cx="815" cy="1029.5" rx="9.15" ry="8.6"/><ellipse cx="815" cy="1024.5" rx="9.15" ry="8.6"/><ellipse cx="820.5" cy="1024.5" rx="8.65" ry="8.6"/><ellipse cx="820.5" cy="1018.5" rx="8.65" ry="8.6"/><ellipse cx="820.5" cy="1013.5" rx="8.65" ry="8.6"/><ellipse cx="820.5" cy="1007.5" rx="8.65" ry="8.6"/><ellipse cx="826" cy="1007.5" rx="9.15" ry="8.6"/><ellipse cx="826" cy="1002.5" rx="9.15" ry="8.6"/><ellipse cx="826" cy="996.5" rx="9.15" ry="8.6"/><ellipse cx="826" cy="991.5" rx="9.15" ry="8.6"/><ellipse cx="826" cy="985.5" rx="9.15" ry="8.6"/><ellipse cx="831.5" cy="985.5" rx="8.65" ry="8.6"/><ellipse cx="831.5" cy="980.5" rx="8.65" ry="8.6"/><ellipse cx="831.5" cy="974.5" rx="8.65" ry="8.6"/><ellipse cx="831.5" cy="969.5" rx="8.65" ry="8.6"/><ellipse cx="837" cy="969.5" rx="9.15" ry="8.6"/><ellipse cx="837" cy="963.5" rx="9.15" ry="8.6"/><ellipse cx="837" cy="958.5" rx="9.15" ry="8.6"/><ellipse cx="837" cy="952.5" rx="9.15" ry="8.6"/><ellipse cx="837" cy="947.5" rx="9.15" ry="8.6"/><ellipse cx="842.5" cy="947.5" rx="8.65" ry="8.6"/><ellipse cx="842.5" cy="941.5" rx="8.65" ry="8.6"/><ellipse cx="842.5" cy="936.5" rx="8.65" ry="8.6"/><ellipse cx="842.5" cy="930.5" rx="8.65" ry="8.6"/><ellipse cx="842.5" cy="925.5" rx="8.65" ry="8.6"/><ellipse cx="848" cy="925.5" rx="9.15" ry="8.6"/><ellipse cx="848" cy="919.5" rx="9.15" ry="8.6"/><ellipse cx="848" cy="914.5" rx="9.15" ry="8.6"/><ellipse cx="848" cy="908.5" rx="9.15" ry="8.6"/><ellipse cx="848" cy="903.5" rx="9.15" ry="8.6"/><ellipse cx="853.5" cy="903.5" rx="8.65" ry="8.6"/><ellipse cx="853.5" cy="897.5" rx="8.65" ry="8.6"/><ellipse cx="853.5" cy="892.5" rx="8.65" ry="8.6"/><ellipse cx="853.5" cy="886.5" rx="8.65" ry="8.6"/><ellipse cx="853.5" cy="881.5" rx="8.65" ry="8.6"/><ellipse cx="853.5" cy="875.5" rx="8.65" ry="8.6"/><ellipse cx="859" cy="875.5" rx="9.15" ry="8.6"/><ellipse cx="859" cy="870.5" rx="9.15" ry="8.6"/><ellipse cx="859" cy="864.5" rx="9.15" ry="8.6"/><ellipse cx="859" cy="859.5" rx="9.15" ry="8.6"/><ellipse cx="859" cy="853.5" rx="9.15" ry="8.6"/><ellipse cx="864.5" cy="853.5" rx="8.65" ry="8.6"/><ellipse cx="864.5" cy="848.5" rx="8.65" ry="8.6"/><ellipse cx="864.5" cy="842.5" rx="8.65" ry="8.6"/><ellipse cx="864.5" cy="837.5" rx="8.65" ry="8.6"/><ellipse cx="864.5" cy="831.5" rx="8.65" ry="8.6"/><ellipse cx="864.5" cy="826.5" rx="8.65" ry="8.6"/><ellipse cx="870" cy="826.5" rx="9.15" ry="8.6"/><ellipse cx="870" cy="820.5" rx="9.15" ry="8.6"/><ellipse cx="870" cy="815.5" rx="9.15" ry="8.6"/><ellipse cx="870" cy="809.5" rx="9.15" ry="8.6"/><ellipse cx="870" cy="804.5" rx="9.15" ry="8.6"/><ellipse cx="870" cy="798.5" rx="9.15" ry="8.6"/><ellipse cx="875.5" cy="798.5" rx="8.65" ry="8.6"/><ellipse cx="875.5" cy="793.5" rx="8.65" ry="8.6"/><ellipse cx="875.5" cy="788.5" rx="8.65" ry="8.6"/><ellipse cx="875.5" cy="782.5" rx="8.65" ry="8.6"/><ellipse cx="875.5" cy="777.5" rx="8.65" ry="8.6"/><ellipse cx="875.5" cy="771.5" rx="8.65" ry="8.6"/><ellipse cx="881" cy="771.5" rx="9.15" ry="8.6"/><ellipse cx="881" cy="766.5" rx="9.15" ry="8.6"/><ellipse cx="881" cy="760.5" rx="9.15" ry="8.6"/><ellipse cx="881" cy="755.5" rx="9.15" ry="8.6"/><ellipse cx="881" cy="749.5" rx="9.15" ry="8.6"/><ellipse cx="881" cy="744.5" rx="9.15" ry="8.6"/><ellipse cx="886.5" cy="744.5" rx="8.65" ry="8.6"/><ellipse cx="886.5" cy="738.5" rx="8.65" ry="8.6"/><ellipse cx="886.5" cy="733.5" rx="8.65" ry="8.6"/><ellipse cx="886.5" cy="727.5" rx="8.65" ry="8.6"/><ellipse cx="886.5" cy="722.5" rx="8.65" ry="8.6"/><ellipse cx="886.5" cy="716.5" rx="8.65" ry="8.6"/><ellipse cx="886.5" cy="711.5" rx="8.65" ry="8.6"/><ellipse cx="892" cy="711.5" rx="9.15" ry="8.6"/><ellipse cx="892" cy="705.5" rx="9.15" ry="8.6"/><ellipse cx="892" cy="700.5" rx="9.15" ry="8.6"/><ellipse cx="892" cy="694.5" rx="9.15" ry="8.6"/><ellipse cx="892" cy="689.5" rx="9.15" ry="8.6"/><ellipse cx="892" cy="683.5" rx="9.15" ry="8.6"/><ellipse cx="897.5" cy="683.5" rx="8.65" ry="8.6"/><ellipse cx="897.5" cy="678.5" rx="8.65" ry="8.6"/><ellipse cx="897.5" cy="672.5" rx="8.65" ry="8.6"/><ellipse cx="897.5" cy="667.5" rx="8.65" ry="8.6"/><ellipse cx="897.5" cy="661.5" rx="8.65" ry="8.6"/><ellipse cx="897.5" cy="656.5" rx="8.65" ry="8.6"/><ellipse cx="903" cy="650.5" rx="9.15" ry="8.6"/><ellipse cx="903" cy="645.5" rx="9.15" ry="8.6"/><ellipse cx="903" cy="639.5" rx="9.15" ry="8.6"/><ellipse cx="903" cy="634.5" rx="9.15" ry="8.6"/><ellipse cx="903" cy="628.5" rx="9.15" ry="8.6"/><ellipse cx="903" cy="623.5" rx="9.15" ry="8.6"/><ellipse cx="908.5" cy="623.5" rx="8.65" ry="8.6"/><ellipse cx="908.5" cy="617.5" rx="8.65" ry="8.6"/><ellipse cx="908.5" cy="612.5" rx="8.65" ry="8.6"/><ellipse cx="908.5" cy="606.5" rx="8.65" ry="8.6"/><ellipse cx="908.5" cy="601.5" rx="8.65" ry="8.6"/><ellipse cx="908.5" cy="595.5" rx="8.65" ry="8.6"/><ellipse cx="908.5" cy="590.5" rx="8.65" ry="8.6"/><ellipse cx="914" cy="590.5" rx="9.15" ry="8.6"/><ellipse cx="914" cy="584.5" rx="9.15" ry="8.6"/><ellipse cx="914" cy="579.5" rx="9.15" ry="8.6"/><ellipse cx="914" cy="573.5" rx="9.15" ry="8.6"/><ellipse cx="914" cy="568.5" rx="9.15" ry="8.6"/><ellipse cx="914" cy="562.5" rx="9.15" ry="8.6"/><ellipse cx="914" cy="557.5" rx="9.15" ry="8.6"/><ellipse cx="919.5" cy="557.5" rx="8.65" ry="8.6"/><ellipse cx="919.5" cy="551.5" rx="8.65" ry="8.6"/><ellipse cx="919.5" cy="546.5" rx="8.65" ry="8.6"/><ellipse cx="919.5" cy="541.5" rx="8.65" ry="8.6"/><ellipse cx="919.5" cy="535.5" rx="8.65" ry="8.6"/><ellipse cx="919.5" cy="530.5" rx="8.65" ry="8.6"/><ellipse cx="925" cy="530.5" rx="9.15" ry="8.6"/><ellipse cx="925" cy="524.5" rx="9.15" ry="8.6"/><ellipse cx="925" cy="519.5" rx="9.15" ry="8.6"/><ellipse cx="925" cy="513.5" rx="9.15" ry="8.6"/><ellipse cx="925" cy="508.5" rx="9.15" ry="8.6"/><ellipse cx="925" cy="502.5" rx="9.15" ry="8.6"/><ellipse cx="925" cy="497.5" rx="9.15" ry="8.6"/><ellipse cx="930.5" cy="497.5" rx="8.65" ry="8.6"/><ellipse cx="930.5" cy="491.5" rx="8.65" ry="8.6"/><ellipse cx="930.5" cy="486.5" rx="8.65" ry="8.6"/><ellipse cx="930.5" cy="480.5" rx="8.65" ry="8.6"/><ellipse cx="930.5" cy="475.5" rx="8.65" ry="8.6"/><ellipse cx="930.5" cy="469.5" rx="8.65" ry="8.6"/><ellipse cx="930.5" cy="464.5" rx="8.65" ry="8.6"/><ellipse cx="936" cy="464.5" rx="9.15" ry="8.6"/><ellipse cx="936" cy="458.5" rx="9.15" ry="8.6"/><ellipse cx="936" cy="453.5" rx="9.15" ry="8.6"/><ellipse cx="936" cy="447.5" rx="9.15" ry="8.6"/><ellipse cx="936" cy="442.5" rx="9.15" ry="8.6"/><ellipse cx="936" cy="436.5" rx="9.15" ry="8.6"/><ellipse cx="936" cy="431.5" rx="9.15" ry="8.6"/><ellipse cx="941.5" cy="431.5" rx="8.65" ry="8.6"/><ellipse cx="941.5" cy="425.5" rx="8.65" ry="8.6"/><ellipse cx="941.5" cy="420.5" rx="8.65" ry="8.6"/><ellipse cx="941.5" cy="414.5" rx="8.65" ry="8.6"/><ellipse cx="941.5" cy="409.5" rx="8.65" ry="8.6"/><ellipse cx="941.5" cy="403.5" rx="8.65" ry="8.6"/><ellipse cx="941.5" cy="398.5" rx="8.65" ry="8.6"/><ellipse cx="947" cy="398.5" rx="9.15" ry="8.6"/><ellipse cx="947" cy="392.5" rx="9.15" ry="8.6"/><ellipse cx="947" cy="387.5" rx="9.15" ry="8.6"/><ellipse cx="947" cy="381.5" rx="9.15" ry="8.6"/><ellipse cx="947" cy="376.5" rx="9.15" ry="8.6"/><ellipse cx="947" cy="370.5" rx="9.15" ry="8.6"/><ellipse cx="952.5" cy="370.5" rx="8.65" ry="8.6"/><ellipse cx="952.5" cy="365.5" rx="8.65" ry="8.6"/><ellipse cx="952.5" cy="359.5" rx="8.65" ry="8.6"/><ellipse cx="952.5" cy="354.5" rx="8.65" ry="8.6"/><ellipse cx="952.5" cy="348.5" rx="8.65" ry="8.6"/><ellipse cx="952.5" cy="343.5" rx="8.65" ry="8.6"/><ellipse cx="952.5" cy="337.5" rx="8.65" ry="8.6"/><ellipse cx="958" cy="337.5" rx="9.15" ry="8.6"/><ellipse cx="958" cy="332.5" rx="9.15" ry="8.6"/><ellipse cx="958" cy="326.5" rx="9.15" ry="8.6"/><ellipse cx="958" cy="321.5" rx="9.15" ry="8.6"/><ellipse cx="958" cy="315.5" rx="9.15" ry="8.6"/><ellipse cx="958" cy="310.5" rx="9.15" ry="8.6"/><ellipse cx="963.5" cy="310.5" rx="8.65" ry="8.6"/><ellipse cx="963.5" cy="305.5" rx="8.65" ry="8.6"/><ellipse cx="963.5" cy="299.5" rx="8.65" ry="8.6"/><ellipse cx="963.5" cy="294.5" rx="8.65" ry="8.6"/><ellipse cx="963.5" cy="288.5" rx="8.65" ry="8.6"/><ellipse cx="963.5" cy="283.5" rx="8.65" ry="8.6"/><ellipse cx="969" cy="283.5" rx="9.15" ry="8.6"/><ellipse cx="969" cy="277.5" rx="9.15" ry="8.6"/><ellipse cx="969" cy="272.5" rx="9.15" ry="8.6"/><ellipse cx="969" cy="266.5" rx="9.15" ry="8.6"/><ellipse cx="969" cy="261.5" rx="9.15" ry="8.6"/><ellipse cx="969" cy="255.5" rx="9.15" ry="8.6"/><ellipse cx="974.5" cy="255.5" rx="8.65" ry="8.6"/><ellipse cx="974.5" cy="250.5" rx="8.65" ry="8.6"/><ellipse cx="974.5" cy="244.5" rx="8.65" ry="8.6"/><ellipse cx="974.5" cy="239.5" rx="8.65" ry="8.6"/><ellipse cx="974.5" cy="233.5" rx="8.65" ry="8.6"/><ellipse cx="974.5" cy="228.5" rx="8.65" ry="8.6"/><ellipse cx="980" cy="228.5" rx="9.15" ry="8.6"/><ellipse cx="980" cy="222.5" rx="9.15" ry="8.6"/><ellipse cx="980" cy="217.5" rx="9.15" ry="8.6"/><ellipse cx="980" cy="211.5" rx="9.15" ry="8.6"/><ellipse cx="980" cy="206.5" rx="9.15" ry="8.6"/><ellipse cx="980" cy="200.5" rx="9.15" ry="8.6"/><ellipse cx="985.5" cy="200.5" rx="8.65" ry="8.6"/><ellipse cx="985.5" cy="195.5" rx="8.65" ry="8.6"/><ellipse cx="985.5" cy="189.5" rx="8.65" ry="8.6"/><ellipse cx="985.5" cy="184.5" rx="8.65" ry="8.6"/><ellipse cx="985.5" cy="178.5" rx="8.65" ry="8.6"/><ellipse cx="991" cy="178.5" rx="9.15" ry="8.6"/><ellipse cx="991" cy="173.5" rx="9.15" ry="8.6"/><ellipse cx="991" cy="167.5" rx="9.15" ry="8.6"/><ellipse cx="991" cy="162.5" rx="9.15" ry="8.6"/><ellipse cx="991" cy="156.5" rx="9.15" ry="8.6"/><ellipse cx="996.5" cy="156.5" rx="8.65" ry="8.6"/><ellipse cx="996.5" cy="151.5" rx="8.65" ry="8.6"/><ellipse cx="996.5" cy="145.5" rx="8.65" ry="8.6"/><ellipse cx="996.5" cy="140.5" rx="8.65" ry="8.6"/><ellipse cx="996.5" cy="134.5" rx="8.65" ry="8.6"/><ellipse cx="1002" cy="134.5" rx="9.15" ry="8.6"/><ellipse cx="1002" cy="129.5" rx="9.15" ry="8.6"/><ellipse cx="1002" cy="123.5" rx="9.15" ry="8.6"/><ellipse cx="1002" cy="118.5" rx="9.15" ry="8.6"/><ellipse cx="1007.5" cy="118.5" rx="8.65" ry="8.6"/><ellipse cx="1007.5" cy="112.5" rx="8.65" ry="8.6"/><ellipse cx="1007.5" cy="107.5" rx="8.65" ry="8.6"/><ellipse cx="1007.5" cy="101.5" rx="8.65" ry="8.6"/><ellipse cx="1013" cy="101.5" rx="9.15" ry="8.6"/><ellipse cx="1013" cy="96.5" rx="9.15" ry="8.6"/><ellipse cx="1013" cy="90.5" rx="9.15" ry="8.6"/><ellipse cx="1018.5" cy="85.5" rx="8.65" ry="8.6"/><ellipse cx="1018.5" cy="79.5" rx="8.65" ry="8.6"/><ellipse cx="1018.5" cy="74.5" rx="8.65" ry="8.6"/><ellipse cx="1024" cy="74.5" rx="9.15" ry="8.6"/><ellipse cx="1024" cy="69.5" rx="9.15" ry="8.6"/><ellipse cx="1029.5" cy="63.5" rx="8.65" ry="8.6"/><ellipse cx="1029.5" cy="58.5" rx="8.65" ry="8.6"/><ellipse cx="1035" cy="58.5" rx="9.15" ry="8.6"/><ellipse cx="1035" cy="52.5" rx="9.15" ry="8.6"/><ellipse cx="1040.5" cy="52.5" rx="8.65" ry="8.6"/><ellipse cx="1046" cy="52.5" rx="9.15" ry="8.6"/><ellipse cx="1051.5" cy="52.5" rx="8.65" ry="8.6"/><ellipse cx="1057" cy="58.5" rx="9.15" ry="8.6"/><ellipse cx="1057" cy="52.5" rx="9.15" ry="8.6"/><ellipse cx="1062.5" cy="63.5" rx="8.65" ry="8.6"/><ellipse cx="1062.5" cy="58.5" rx="8.65" ry="8.6"/><ellipse cx="1068" cy="69.5" rx="9.15" ry="8.6"/><ellipse cx="1068" cy="63.5" rx="9.15" ry="8.6"/><ellipse cx="1073.5" cy="79.5" rx="8.65" ry="8.6"/><ellipse cx="1073.5" cy="74.5" rx="8.65" ry="8.6"/><ellipse cx="1073.5" cy="69.5" rx="8.65" ry="8.6"/><ellipse cx="1079" cy="96.5" rx="9.15" ry="8.6"/><ellipse cx="1079" cy="90.5" rx="9.15" ry="8.6"/><ellipse cx="1079" cy="85.5" rx="9.15" ry="8.6"/><ellipse cx="1079" cy="79.5" rx="9.15" ry="8.6"/><ellipse cx="1084.5" cy="112.5" rx="8.65" ry="8.6"/><ellipse cx="1084.5" cy="107.5" rx="8.65" ry="8.6"/><ellipse cx="1084.5" cy="101.5" rx="8.65" ry="8.6"/><ellipse cx="1084.5" cy="96.5" rx="8.65" ry="8.6"/><ellipse cx="1090" cy="129.5" rx="9.15" ry="8.6"/><ellipse cx="1090" cy="123.5" rx="9.15" ry="8.6"/><ellipse cx="1090" cy="118.5" rx="9.15" ry="8.6"/><ellipse cx="1090" cy="112.5" rx="9.15" ry="8.6"/><ellipse cx="1095.5" cy="145.5" rx="8.65" ry="8.6"/><ellipse cx="1095.5" cy="140.5" rx="8.65" ry="8.6"/><ellipse cx="1095.5" cy="134.5" rx="8.65" ry="8.6"/><ellipse cx="1095.5" cy="129.5" rx="8.65" ry="8.6"/><ellipse cx="1101" cy="167.5" rx="9.15" ry="8.6"/><ellipse cx="1101" cy="162.5" rx="9.15" ry="8.6"/><ellipse cx="1101" cy="156.5" rx="9.15" ry="8.6"/><ellipse cx="1101" cy="151.5" rx="9.15" ry="8.6"/><ellipse cx="1101" cy="145.5" rx="9.15" ry="8.6"/><ellipse cx="1106.5" cy="189.5" rx="8.65" ry="8.6"/><ellipse cx="1106.5" cy="184.5" rx="8.65" ry="8.6"/><ellipse cx="1106.5" cy="178.5" rx="8.65" ry="8.6"/><ellipse cx="1106.5" cy="173.5" rx="8.65" ry="8.6"/><ellipse cx="1106.5" cy="167.5" rx="8.65" ry="8.6"/><ellipse cx="1112" cy="211.5" rx="9.15" ry="8.6"/><ellipse cx="1112" cy="206.5" rx="9.15" ry="8.6"/><ellipse cx="1112" cy="200.5" rx="9.15" ry="8.6"/><ellipse cx="1112" cy="195.5" rx="9.15" ry="8.6"/><ellipse cx="1112" cy="189.5" rx="9.15" ry="8.6"/><ellipse cx="1117.5" cy="239.5" rx="8.65" ry="8.6"/><ellipse cx="1117.5" cy="233.5" rx="8.65" ry="8.6"/><ellipse cx="1117.5" cy="228.5" rx="8.65" ry="8.6"/><ellipse cx="1117.5" cy="222.5" rx="8.65" ry="8.6"/><ellipse cx="1117.5" cy="217.5" rx="8.65" ry="8.6"/><ellipse cx="1123" cy="266.5" rx="9.15" ry="8.6"/><ellipse cx="1123" cy="261.5" rx="9.15" ry="8.6"/><ellipse cx="1123" cy="255.5" rx="9.15" ry="8.6"/><ellipse cx="1123" cy="250.5" rx="9.15" ry="8.6"/><ellipse cx="1123" cy="244.5" rx="9.15" ry="8.6"/><ellipse cx="1123" cy="239.5" rx="9.15" ry="8.6"/><ellipse cx="1128.5" cy="294.5" rx="8.65" ry="8.6"/><ellipse cx="1128.5" cy="288.5" rx="8.65" ry="8.6"/><ellipse cx="1128.5" cy="283.5" rx="8.65" ry="8.6"/><ellipse cx="1128.5" cy="277.5" rx="8.65" ry="8.6"/><ellipse cx="1128.5" cy="272.5" rx="8.65" ry="8.6"/><ellipse cx="1128.5" cy="266.5" rx="8.65" ry="8.6"/><ellipse cx="1134" cy="321.5" rx="9.15" ry="8.6"/><ellipse cx="1134" cy="315.5" rx="9.15" ry="8.6"/><ellipse cx="1134" cy="310.5" rx="9.15" ry="8.6"/><ellipse cx="1134" cy="305.5" rx="9.15" ry="8.6"/><ellipse cx="1134" cy="299.5" rx="9.15" ry="8.6"/><ellipse cx="1134" cy="294.5" rx="9.15" ry="8.6"/><ellipse cx="1139.5" cy="354.5" rx="8.65" ry="8.6"/><ellipse cx="1139.5" cy="348.5" rx="8.65" ry="8.6"/><ellipse cx="1139.5" cy="343.5" rx="8.65" ry="8.6"/><ellipse cx="1139.5" cy="337.5" rx="8.65" ry="8.6"/><ellipse cx="1139.5" cy="332.5" rx="8.65" ry="8.6"/><ellipse cx="1139.5" cy="326.5" rx="8.65" ry="8.6"/><ellipse cx="1145" cy="387.5" rx="9.15" ry="8.6"/><ellipse cx="1145" cy="381.5" rx="9.15" ry="8.6"/><ellipse cx="1145" cy="376.5" rx="9.15" ry="8.6"/><ellipse cx="1145" cy="370.5" rx="9.15" ry="8.6"/><ellipse cx="1145" cy="365.5" rx="9.15" ry="8.6"/><ellipse cx="1145" cy="359.5" rx="9.15" ry="8.6"/><ellipse cx="1145" cy="354.5" rx="9.15" ry="8.6"/><ellipse cx="1150.5" cy="414.5" rx="8.65" ry="8.6"/><ellipse cx="1150.5" cy="409.5" rx="8.65" ry="8.6"/><ellipse cx="1150.5" cy="403.5" rx="8.65" ry="8.6"/><ellipse cx="1150.5" cy="398.5" rx="8.65" ry="8.6"/><ellipse cx="1150.5" cy="392.5" rx="8.65" ry="8.6"/><ellipse cx="1150.5" cy="387.5" rx="8.65" ry="8.6"/><ellipse cx="1156" cy="447.5" rx="9.15" ry="8.6"/><ellipse cx="1156" cy="442.5" rx="9.15" ry="8.6"/><ellipse cx="1156" cy="436.5" rx="9.15" ry="8.6"/><ellipse cx="1156" cy="431.5" rx="9.15" ry="8.6"/><ellipse cx="1156" cy="425.5" rx="9.15" ry="8.6"/><ellipse cx="1156" cy="420.5" rx="9.15" ry="8.6"/><ellipse cx="1156" cy="414.5" rx="9.15" ry="8.6"/><ellipse cx="1161.5" cy="480.5" rx="8.65" ry="8.6"/><ellipse cx="1161.5" cy="475.5" rx="8.65" ry="8.6"/><ellipse cx="1161.5" cy="469.5" rx="8.65" ry="8.6"/><ellipse cx="1161.5" cy="464.5" rx="8.65" ry="8.6"/><ellipse cx="1161.5" cy="458.5" rx="8.65" ry="8.6"/><ellipse cx="1161.5" cy="453.5" rx="8.65" ry="8.6"/><ellipse cx="1161.5" cy="447.5" rx="8.65" ry="8.6"/><ellipse cx="1167" cy="513.5" rx="9.15" ry="8.6"/><ellipse cx="1167" cy="508.5" rx="9.15" ry="8.6"/><ellipse cx="1167" cy="502.5" rx="9.15" ry="8.6"/><ellipse cx="1167" cy="497.5" rx="9.15" ry="8.6"/><ellipse cx="1167" cy="491.5" rx="9.15" ry="8.6"/><ellipse cx="1167" cy="486.5" rx="9.15" ry="8.6"/><ellipse cx="1167" cy="480.5" rx="9.15" ry="8.6"/><ellipse cx="1172.5" cy="546.5" rx="8.65" ry="8.6"/><ellipse cx="1172.5" cy="541.5" rx="8.65" ry="8.6"/><ellipse cx="1172.5" cy="535.5" rx="8.65" ry="8.6"/><ellipse cx="1172.5" cy="530.5" rx="8.65" ry="8.6"/><ellipse cx="1172.5" cy="524.5" rx="8.65" ry="8.6"/><ellipse cx="1172.5" cy="519.5" rx="8.65" ry="8.6"/><ellipse cx="1172.5" cy="513.5" rx="8.65" ry="8.6"/><ellipse cx="1178" cy="573.5" rx="9.15" ry="8.6"/><ellipse cx="1178" cy="568.5" rx="9.15" ry="8.6"/><ellipse cx="1178" cy="562.5" rx="9.15" ry="8.6"/><ellipse cx="1178" cy="557.5" rx="9.15" ry="8.6"/><ellipse cx="1178" cy="551.5" rx="9.15" ry="8.6"/><ellipse cx="1178" cy="546.5" rx="9.15" ry="8.6"/><ellipse cx="1183.5" cy="606.5" rx="8.65" ry="8.6"/><ellipse cx="1183.5" cy="601.5" rx="8.65" ry="8.6"/><ellipse cx="1183.5" cy="595.5" rx="8.65" ry="8.6"/><ellipse cx="1183.5" cy="590.5" rx="8.65" ry="8.6"/><ellipse cx="1183.5" cy="584.5" rx="8.65" ry="8.6"/><ellipse cx="1183.5" cy="579.5" rx="8.65" ry="8.6"/><ellipse cx="1189" cy="639.5" rx="9.15" ry="8.6"/><ellipse cx="1189" cy="634.5" rx="9.15" ry="8.6"/><ellipse cx="1189" cy="628.5" rx="9.15" ry="8.6"/><ellipse cx="1189" cy="623.5" rx="9.15" ry="8.6"/><ellipse cx="1189" cy="617.5" rx="9.15" ry="8.6"/><ellipse cx="1189" cy="612.5" rx="9.15" ry="8.6"/><ellipse cx="1189" cy="606.5" rx="9.15" ry="8.6"/><ellipse cx="1194.5" cy="672.5" rx="8.65" ry="8.6"/><ellipse cx="1194.5" cy="667.5" rx="8.65" ry="8.6"/><ellipse cx="1194.5" cy="661.5" rx="8.65" ry="8.6"/><ellipse cx="1194.5" cy="656.5" rx="8.65" ry="8.6"/><ellipse cx="1194.5" cy="650.5" rx="8.65" ry="8.6"/><ellipse cx="1194.5" cy="645.5" rx="8.65" ry="8.6"/><ellipse cx="1194.5" cy="639.5" rx="8.65" ry="8.6"/><ellipse cx="1200" cy="700.5" rx="9.15" ry="8.6"/><ellipse cx="1200" cy="694.5" rx="9.15" ry="8.6"/><ellipse cx="1200" cy="689.5" rx="9.15" ry="8.6"/><ellipse cx="1200" cy="683.5" rx="9.15" ry="8.6"/><ellipse cx="1200" cy="678.5" rx="9.15" ry="8.6"/><ellipse cx="1200" cy="672.5" rx="9.15" ry="8.6"/><ellipse cx="1205.5" cy="733.5" rx="8.65" ry="8.6"/><ellipse cx="1205.5" cy="727.5" rx="8.65" ry="8.6"/><ellipse cx="1205.5" cy="722.5" rx="8.65" ry="8.6"/><ellipse cx="1205.5" cy="716.5" rx="8.65" ry="8.6"/><ellipse cx="1205.5" cy="711.5" rx="8.65" ry="8.6"/><ellipse cx="1205.5" cy="705.5" rx="8.65" ry="8.6"/><ellipse cx="1205.5" cy="700.5" rx="8.65" ry="8.6"/><ellipse cx="1211" cy="760.5" rx="9.15" ry="8.6"/><ellipse cx="1211" cy="755.5" rx="9.15" ry="8.6"/><ellipse cx="1211" cy="749.5" rx="9.15" ry="8.6"/><ellipse cx="1211" cy="744.5" rx="9.15" ry="8.6"/><ellipse cx="1211" cy="738.5" rx="9.15" ry="8.6"/><ellipse cx="1211" cy="733.5" rx="9.15" ry="8.6"/><ellipse cx="1216.5" cy="788.5" rx="8.65" ry="8.6"/><ellipse cx="1216.5" cy="782.5" rx="8.65" ry="8.6"/><ellipse cx="1216.5" cy="777.5" rx="8.65" ry="8.6"/><ellipse cx="1216.5" cy="771.5" rx="8.65" ry="8.6"/><ellipse cx="1216.5" cy="766.5" rx="8.65" ry="8.6"/><ellipse cx="1216.5" cy="760.5" rx="8.65" ry="8.6"/><ellipse cx="1222" cy="815.5" rx="9.15" ry="8.6"/><ellipse cx="1222" cy="809.5" rx="9.15" ry="8.6"/><ellipse cx="1222" cy="804.5" rx="9.15" ry="8.6"/><ellipse cx="1222" cy="798.5" rx="9.15" ry="8.6"/><ellipse cx="1222" cy="793.5" rx="9.15" ry="8.6"/><ellipse cx="1222" cy="788.5" rx="9.15" ry="8.6"/><ellipse cx="1227.5" cy="842.5" rx="8.65" ry="8.6"/><ellipse cx="1227.5" cy="837.5" rx="8.65" ry="8.6"/><ellipse cx="1227.5" cy="831.5" rx="8.65" ry="8.6"/><ellipse cx="1227.5" cy="826.5" rx="8.65" ry="8.6"/><ellipse cx="1227.5" cy="820.5" rx="8.65" ry="8.6"/><ellipse cx="1227.5" cy="815.5" rx="8.65" ry="8.6"/><ellipse cx="1233" cy="870.5" rx="9.15" ry="8.6"/><ellipse cx="1233" cy="864.5" rx="9.15" ry="8.6"/><ellipse cx="1233" cy="859.5" rx="9.15" ry="8.6"/><ellipse cx="1233" cy="853.5" rx="9.15" ry="8.6"/><ellipse cx="1233" cy="848.5" rx="9.15" ry="8.6"/><ellipse cx="1233" cy="842.5" rx="9.15" ry="8.6"/><ellipse cx="1238.5" cy="892.5" rx="8.65" ry="8.6"/><ellipse cx="1238.5" cy="886.5" rx="8.65" ry="8.6"/><ellipse cx="1238.5" cy="881.5" rx="8.65" ry="8.6"/><ellipse cx="1238.5" cy="875.5" rx="8.65" ry="8.6"/><ellipse cx="1238.5" cy="870.5" rx="8.65" ry="8.6"/><ellipse cx="1244" cy="919.5" rx="9.15" ry="8.6"/><ellipse cx="1244" cy="914.5" rx="9.15" ry="8.6"/><ellipse cx="1244" cy="908.5" rx="9.15" ry="8.6"/><ellipse cx="1244" cy="903.5" rx="9.15" ry="8.6"/><ellipse cx="1244" cy="897.5" rx="9.15" ry="8.6"/><ellipse cx="1244" cy="892.5" rx="9.15" ry="8.6"/><ellipse cx="1249.5" cy="941.5" rx="8.65" ry="8.6"/><ellipse cx="1249.5" cy="936.5" rx="8.65" ry="8.6"/><ellipse cx="1249.5" cy="930.5" rx="8.65" ry="8.6"/><ellipse cx="1249.5" cy="925.5" rx="8.65" ry="8.6"/><ellipse cx="1249.5" cy="919.5" rx="8.65" ry="8.6"/><ellipse cx="1255" cy="963.5" rx="9.15" ry="8.6"/><ellipse cx="1255" cy="958.5" rx="9.15" ry="8.6"/><ellipse cx="1255" cy="952.5" rx="9.15" ry="8.6"/><ellipse cx="1255" cy="947.5" rx="9.15" ry="8.6"/><ellipse cx="1255" cy="941.5" rx="9.15" ry="8.6"/><ellipse cx="1260.5" cy="985.5" rx="8.65" ry="8.6"/><ellipse cx="1260.5" cy="980.5" rx="8.65" ry="8.6"/><ellipse cx="1260.5" cy="974.5" rx="8.65" ry="8.6"/><ellipse cx="1260.5" cy="969.5" rx="8.65" ry="8.6"/><ellipse cx="1260.5" cy="963.5" rx="8.65" ry="8.6"/><ellipse cx="1266" cy="1002.5" rx="9.15" ry="8.6"/><ellipse cx="1266" cy="996.5" rx="9.15" ry="8.6"/><ellipse cx="1266" cy="991.5" rx="9.15" ry="8.6"/><ellipse cx="1266" cy="985.5" rx="9.15" ry="8.6"/><ellipse cx="1271.5" cy="1024.5" rx="8.65" ry="8.6"/><ellipse cx="1271.5" cy="1018.5" rx="8.65" ry="8.6"/><ellipse cx="1271.5" cy="1013.5" rx="8.65" ry="8.6"/><ellipse cx="1271.5" cy="1007.5" rx="8.65" ry="8.6"/><ellipse cx="1271.5" cy="1002.5" rx="8.65" ry="8.6"/><ellipse cx="1277" cy="1040.5" rx="9.15" ry="8.6"/><ellipse cx="1277" cy="1034.5" rx="9.15" ry="8.6"/><ellipse cx="1277" cy="1029.5" rx="9.15" ry="8.6"/><ellipse cx="1277" cy="1024.5" rx="9.15" ry="8.6"/><ellipse cx="1282.5" cy="1056.5" rx="8.65" ry="8.6"/><ellipse cx="1282.5" cy="1051.5" rx="8.65" ry="8.6"/><ellipse cx="1282.5" cy="1045.5" rx="8.65" ry="8.6"/><ellipse cx="1282.5" cy="1040.5" rx="8.65" ry="8.6"/><ellipse cx="1288" cy="1067.5" rx="9.15" ry="8.6"/><ellipse cx="1288" cy="1062.5" rx="9.15" ry="8.6"/><ellipse cx="1288" cy="1056.5" rx="9.15" ry="8.6"/><ellipse cx="1293.5" cy="1084.5" rx="8.65" ry="8.6"/><ellipse cx="1293.5" cy="1078.5" rx="8.65" ry="8.6"/><ellipse cx="1293.5" cy="1073.5" rx="8.65" ry="8.6"/><ellipse cx="1299" cy="1100.5" rx="9.15" ry="8.6"/><ellipse cx="1299" cy="1095.5" rx="9.15" ry="8.6"/><ellipse cx="1299" cy="1089.5" rx="9.15" ry="8.6"/><ellipse cx="1304.5" cy="1111.5" rx="8.65" ry="8.6"/><ellipse cx="1304.5" cy="1106.5" rx="8.65" ry="8.6"/><ellipse cx="1304.5" cy="1100.5" rx="8.65" ry="8.6"/><ellipse cx="1310" cy="1122.5" rx="9.15" ry="8.6"/><ellipse cx="1310" cy="1117.5" rx="9.15" ry="8.6"/><ellipse cx="1310" cy="1111.5" rx="9.15" ry="8.6"/><ellipse cx="606" cy="1243.5" rx="9.15" ry="8.6"/><ellipse cx="705" cy="1216.5" rx="9.15" ry="8.6"/><ellipse cx="716" cy="1210.5" rx="9.15" ry="8.6"/><ellipse cx="721.5" cy="1210.5" rx="8.65" ry="8.6"/><ellipse cx="721.5" cy="1205.5" rx="8.65" ry="8.6"/><ellipse cx="732.5" cy="1194.5" rx="8.65" ry="8.6"/><ellipse cx="738" cy="1188.5" rx="9.15" ry="8.6"/><ellipse cx="743.5" cy="1183.5" rx="8.65" ry="8.6"/><ellipse cx="749" cy="1177.5" rx="9.15" ry="8.6"/><ellipse cx="754.5" cy="1172.5" rx="8.65" ry="8.6"/><ellipse cx="765.5" cy="1150.5" rx="8.65" ry="8.6"/><ellipse cx="1315.5" cy="1133.5" rx="8.65" ry="8.6"/><ellipse cx="1315.5" cy="1128.5" rx="8.65" ry="8.6"/><ellipse cx="1326.5" cy="1150.5" rx="8.65" ry="8.6"/><ellipse cx="1326.5" cy="1144.5" rx="8.65" ry="8.6"/><ellipse cx="1332" cy="1161.5" rx="9.15" ry="8.6"/><ellipse cx="1332" cy="1155.5" rx="9.15" ry="8.6"/><ellipse cx="1337.5" cy="1172.5" rx="8.65" ry="8.6"/><ellipse cx="1337.5" cy="1166.5" rx="8.65" ry="8.6"/><ellipse cx="1348.5" cy="1188.5" rx="8.65" ry="8.6"/><ellipse cx="1348.5" cy="1177.5" rx="8.65" ry="8.6"/><ellipse cx="1359.5" cy="1194.5" rx="8.65" ry="8.6"/><ellipse cx="1370.5" cy="1205.5" rx="8.65" ry="8.6"/><ellipse cx="1381.5" cy="1216.5" rx="8.65" ry="8.6"/><ellipse cx="1392.5" cy="1221.5" rx="8.65" ry="8.6"/><ellipse cx="1431" cy="1238.5" rx="9.15" ry="8.6"/></g>
</g>
<g filter="url(#th)" stroke="#f00" stroke-width="7" stroke-linecap="round"><line x1="1045.5" y1="1208.0" x2="1045.5" y2="1246.5"/><line x1="1045.5" y1="1140.8" x2="1045.5" y2="1179.3"/><line x1="1045.5" y1="1073.7" x2="1045.5" y2="1112.2"/><line x1="1045.5" y1="1006.5" x2="1045.5" y2="1045.0"/><line x1="1045.5" y1="939.4" x2="1045.5" y2="977.9"/><line x1="1045.5" y1="872.2" x2="1045.5" y2="910.7"/><line x1="1045.5" y1="805.1" x2="1045.5" y2="843.6"/><line x1="1045.5" y1="737.9" x2="1045.5" y2="776.4"/><line x1="1045.5" y1="670.8" x2="1045.5" y2="709.3"/><line x1="1045.5" y1="603.6" x2="1045.5" y2="642.1"/><line x1="1045.5" y1="536.5" x2="1045.5" y2="575.0"/><line x1="1045.5" y1="469.3" x2="1045.5" y2="507.8"/><line x1="1045.5" y1="402.2" x2="1045.5" y2="440.7"/><line x1="1045.5" y1="335.0" x2="1045.5" y2="373.5"/><line x1="1045.5" y1="267.9" x2="1045.5" y2="306.4"/><line x1="1045.5" y1="200.7" x2="1045.5" y2="239.2"/><line x1="1045.5" y1="133.6" x2="1045.5" y2="172.1"/><line x1="1045.5" y1="66.4" x2="1045.5" y2="104.9"/></g>
<g fill="none" stroke-linecap="round" stroke-linejoin="round">
<g filter="url(#th)" stroke="#f00" stroke-width="6"><line x1="772" y1="1147" x2="1043" y2="1147"/><polyline points="798.6,1122 772.5,1147 798.6,1172"/><polyline points="1019.8,1122 1045,1147 1019.8,1172"/><line x1="1340.7" y1="690.9" x2="1253.2" y2="911" stroke-width="6.6"/></g>
<g filter="url(#th)" stroke="#000"><g stroke-width="7"><line x1="629" y1="1109.4" x2="1062" y2="1109.4"/><polyline points="651,1083.5 627.5,1109.4 651,1135.3"/><polyline points="1038.6,1085 1063.4,1109.4 1038.6,1134.3"/></g>
<g stroke-width="7.5"><line x1="1361.4" y1="384.9" x2="1280.2" y2="597.6"/></g></g>
</g>
</svg>
</body>
</html>
